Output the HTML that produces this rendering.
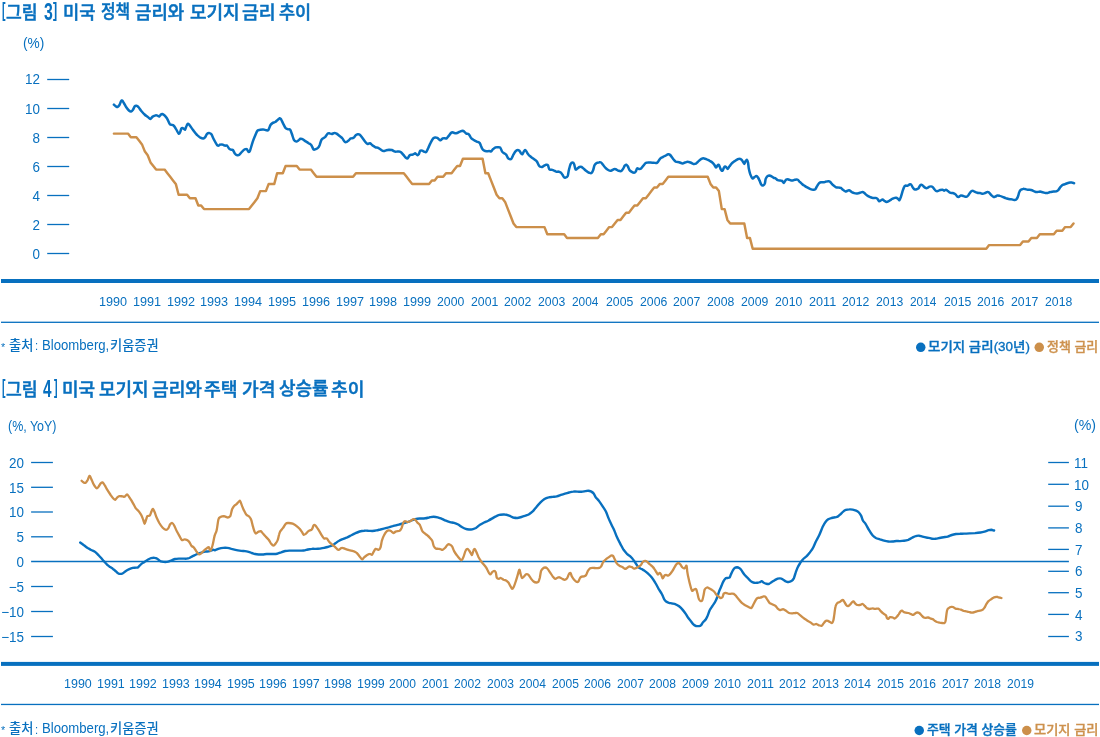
<!DOCTYPE html>
<html lang="ko"><head><meta charset="utf-8"><title>미국 금리 차트</title>
<style>html,body{margin:0;padding:0;background:#fff;}
body{width:1100px;height:737px;position:relative;overflow:hidden;font-family:"Liberation Sans","Noto Sans CJK KR",sans-serif;}
.t{position:absolute;white-space:nowrap;line-height:1.2;}
.grp{position:absolute;left:0;top:0;width:0;height:0;}
svg{position:absolute;left:0;top:0;}
</style></head><body>
<svg id="g" width="1100" height="737" viewBox="0 0 1100 737">
<line x1="47.2" y1="79.50" x2="69.2" y2="79.50" stroke="#0870bf" stroke-width="1.3"/>
<line x1="47.2" y1="108.50" x2="69.2" y2="108.50" stroke="#0870bf" stroke-width="1.3"/>
<line x1="47.2" y1="137.50" x2="69.2" y2="137.50" stroke="#0870bf" stroke-width="1.3"/>
<line x1="47.2" y1="166.50" x2="69.2" y2="166.50" stroke="#0870bf" stroke-width="1.3"/>
<line x1="47.2" y1="195.50" x2="69.2" y2="195.50" stroke="#0870bf" stroke-width="1.3"/>
<line x1="47.2" y1="224.50" x2="69.2" y2="224.50" stroke="#0870bf" stroke-width="1.3"/>
<line x1="47.2" y1="253.50" x2="69.2" y2="253.50" stroke="#0870bf" stroke-width="1.3"/>
<line x1="31.1" y1="462.50" x2="52.9" y2="462.50" stroke="#0870bf" stroke-width="1.3"/>
<line x1="31.1" y1="487.30" x2="52.9" y2="487.30" stroke="#0870bf" stroke-width="1.3"/>
<line x1="31.1" y1="512.00" x2="52.9" y2="512.00" stroke="#0870bf" stroke-width="1.3"/>
<line x1="31.1" y1="536.80" x2="52.9" y2="536.80" stroke="#0870bf" stroke-width="1.3"/>
<line x1="31.1" y1="561.50" x2="1068.9" y2="561.50" stroke="#0870bf" stroke-width="1.3"/>
<line x1="31.1" y1="586.50" x2="52.9" y2="586.50" stroke="#0870bf" stroke-width="1.3"/>
<line x1="31.1" y1="611.50" x2="52.9" y2="611.50" stroke="#0870bf" stroke-width="1.3"/>
<line x1="31.1" y1="636.50" x2="52.9" y2="636.50" stroke="#0870bf" stroke-width="1.3"/>
<line x1="1048.2" y1="462.50" x2="1068.9" y2="462.50" stroke="#0870bf" stroke-width="1.3"/>
<line x1="1048.2" y1="484.30" x2="1068.9" y2="484.30" stroke="#0870bf" stroke-width="1.3"/>
<line x1="1048.2" y1="506.20" x2="1068.9" y2="506.20" stroke="#0870bf" stroke-width="1.3"/>
<line x1="1048.2" y1="527.90" x2="1068.9" y2="527.90" stroke="#0870bf" stroke-width="1.3"/>
<line x1="1048.2" y1="549.40" x2="1068.9" y2="549.40" stroke="#0870bf" stroke-width="1.3"/>
<line x1="1048.2" y1="571.30" x2="1068.9" y2="571.30" stroke="#0870bf" stroke-width="1.3"/>
<line x1="1048.2" y1="592.70" x2="1068.9" y2="592.70" stroke="#0870bf" stroke-width="1.3"/>
<line x1="1048.2" y1="614.40" x2="1068.9" y2="614.40" stroke="#0870bf" stroke-width="1.3"/>
<line x1="1048.2" y1="636.50" x2="1068.9" y2="636.50" stroke="#0870bf" stroke-width="1.3"/>
<rect x="1" y="279" width="1098" height="4" fill="#0870bf"/>
<rect x="1" y="321.65" width="1098" height="1.3" fill="#0870bf"/>
<rect x="1" y="661.9" width="1098" height="4" fill="#0870bf"/>
<rect x="1" y="703.8" width="1098" height="1.3" fill="#0870bf"/>
<path d="M113.9,133.6L116.7,133.6L119.5,133.6L122.3,133.6L125.2,133.6L128.0,133.6L130.8,137.2L133.6,137.2L136.4,137.2L139.2,140.8L142.0,144.4L144.9,151.6L147.7,155.2L150.5,162.4L153.3,166.0L156.1,169.6L158.9,169.6L161.7,169.6L164.6,169.6L167.4,173.2L170.2,176.8L173.0,180.4L175.8,183.9L178.6,194.7L181.4,194.7L184.3,194.7L187.1,194.7L189.9,198.3L192.7,198.3L195.5,198.3L198.3,205.5L201.1,205.5L204.0,209.1L206.8,209.1L209.6,209.1L212.4,209.1L215.2,209.1L218.0,209.1L220.8,209.1L223.7,209.1L226.5,209.1L229.3,209.1L232.1,209.1L234.9,209.1L237.7,209.1L240.5,209.1L243.4,209.1L246.2,209.1L249.0,209.1L251.8,205.5L254.6,201.9L257.4,198.3L260.2,191.1L263.1,191.1L265.9,191.1L268.7,183.9L271.5,183.9L274.3,183.9L277.1,173.2L279.9,173.2L282.8,173.2L285.6,166.0L288.4,166.0L291.2,166.0L294.0,166.0L296.8,166.0L299.6,169.6L302.4,169.6L305.3,169.6L308.1,169.6L310.9,169.6L313.7,173.2L316.5,176.8L319.3,176.8L322.1,176.8L325.0,176.8L327.8,176.8L330.6,176.8L333.4,176.8L336.2,176.8L339.0,176.8L341.8,176.8L344.7,176.8L347.5,176.8L350.3,176.8L353.1,176.8L355.9,173.2L358.7,173.2L361.5,173.2L364.4,173.2L367.2,173.2L370.0,173.2L372.8,173.2L375.6,173.2L378.4,173.2L381.2,173.2L384.1,173.2L386.9,173.2L389.7,173.2L392.5,173.2L395.3,173.2L398.1,173.2L400.9,173.2L403.8,173.2L406.6,176.8L409.4,180.4L412.2,183.9L415.0,183.9L417.8,183.9L420.6,183.9L423.5,183.9L426.3,183.9L429.1,183.9L431.9,180.4L434.7,180.4L437.5,176.8L440.3,176.8L443.2,176.8L446.0,173.2L448.8,173.2L451.6,173.2L454.4,169.6L457.2,166.0L460.0,166.0L462.9,158.8L465.7,158.8L468.5,158.8L471.3,158.8L474.1,158.8L476.9,158.8L479.7,158.8L482.6,158.8L485.4,173.2L488.2,173.2L491.0,180.4L493.8,187.5L496.6,194.7L499.4,198.3L502.3,198.3L505.1,201.9L507.9,209.1L510.7,216.3L513.5,223.5L516.3,227.1L519.1,227.1L522.0,227.1L524.8,227.1L527.6,227.1L530.4,227.1L533.2,227.1L536.0,227.1L538.8,227.1L541.7,227.1L544.5,227.1L547.3,234.3L550.1,234.3L552.9,234.3L555.7,234.3L558.5,234.3L561.4,234.3L564.2,234.3L567.0,237.9L569.8,237.9L572.6,237.9L575.4,237.9L578.2,237.9L581.1,237.9L583.9,237.9L586.7,237.9L589.5,237.9L592.3,237.9L595.1,237.9L597.9,237.9L600.8,234.3L603.6,234.3L606.4,230.7L609.2,227.1L612.0,227.1L614.8,223.5L617.6,219.9L620.5,219.9L623.3,216.3L626.1,212.7L628.9,212.7L631.7,209.1L634.5,205.5L637.3,205.5L640.1,201.9L643.0,198.3L645.8,198.3L648.6,194.7L651.4,191.1L654.2,187.5L657.0,187.5L659.8,183.9L662.7,183.9L665.5,180.4L668.3,176.8L671.1,176.8L673.9,176.8L676.7,176.8L679.5,176.8L682.4,176.8L685.2,176.8L688.0,176.8L690.8,176.8L693.6,176.8L696.4,176.8L699.2,176.8L702.1,176.8L704.9,176.8L707.7,176.8L710.5,183.9L713.3,187.5L716.1,187.5L718.9,191.1L721.8,209.1L724.6,209.1L727.4,219.9L730.2,223.5L733.0,223.5L735.8,223.5L738.6,223.5L741.5,223.5L744.3,223.5L747.1,237.9L749.9,237.9L752.7,248.7L755.5,248.7L758.3,248.7L761.2,248.7L764.0,248.7L766.8,248.7L769.6,248.7L772.4,248.7L775.2,248.7L778.0,248.7L780.9,248.7L783.7,248.7L786.5,248.7L789.3,248.7L792.1,248.7L794.9,248.7L797.7,248.7L800.6,248.7L803.4,248.7L806.2,248.7L809.0,248.7L811.8,248.7L814.6,248.7L817.4,248.7L820.3,248.7L823.1,248.7L825.9,248.7L828.7,248.7L831.5,248.7L834.3,248.7L837.1,248.7L840.0,248.7L842.8,248.7L845.6,248.7L848.4,248.7L851.2,248.7L854.0,248.7L856.8,248.7L859.7,248.7L862.5,248.7L865.3,248.7L868.1,248.7L870.9,248.7L873.7,248.7L876.5,248.7L879.4,248.7L882.2,248.7L885.0,248.7L887.8,248.7L890.6,248.7L893.4,248.7L896.2,248.7L899.1,248.7L901.9,248.7L904.7,248.7L907.5,248.7L910.3,248.7L913.1,248.7L915.9,248.7L918.8,248.7L921.6,248.7L924.4,248.7L927.2,248.7L930.0,248.7L932.8,248.7L935.6,248.7L938.5,248.7L941.3,248.7L944.1,248.7L946.9,248.7L949.7,248.7L952.5,248.7L955.3,248.7L958.2,248.7L961.0,248.7L963.8,248.7L966.6,248.7L969.4,248.7L972.2,248.7L975.0,248.7L977.8,248.7L980.7,248.7L983.5,248.7L986.3,248.7L989.1,245.1L991.9,245.1L994.7,245.1L997.5,245.1L1000.4,245.1L1003.2,245.1L1006.0,245.1L1008.8,245.1L1011.6,245.1L1014.4,245.1L1017.2,245.1L1020.1,245.1L1022.9,241.5L1025.7,241.5L1028.5,241.5L1031.3,237.9L1034.1,237.9L1036.9,237.9L1039.8,234.3L1042.6,234.3L1045.4,234.3L1048.2,234.3L1051.0,234.3L1053.8,234.3L1056.6,230.7L1059.5,230.7L1062.3,230.7L1065.1,227.1L1067.9,227.1L1070.7,227.1L1073.5,223.5" fill="none" stroke="#cc8f4a" stroke-width="2.45" stroke-linejoin="round" stroke-linecap="round"/>
<path d="M113.9,104.7C114.2,105.0 115.3,106.0 115.9,106.4C116.5,106.7 117.0,107.2 117.5,107.0C118.1,106.9 118.7,106.2 119.3,105.3C119.9,104.3 120.6,102.0 121.1,101.2C121.6,100.4 121.9,100.3 122.3,100.6C122.8,100.9 123.2,101.9 123.8,103.0C124.5,104.0 125.3,105.8 126.1,107.0C127.0,108.3 128.0,109.7 128.9,110.5C129.7,111.2 130.5,111.7 131.2,111.5C131.9,111.4 132.4,110.6 132.9,109.8C133.5,108.9 134.2,107.0 134.7,106.4C135.3,105.7 135.7,105.7 136.4,105.8C137.0,105.9 137.6,106.2 138.4,107.0C139.2,107.9 140.1,109.5 141.1,110.7C142.2,112.0 143.4,113.5 144.6,114.5C145.7,115.6 147.0,116.3 147.9,117.0C148.9,117.7 149.5,119.0 150.3,118.9C151.1,118.8 151.9,117.2 152.7,116.6C153.6,116.0 154.7,115.5 155.4,115.4C156.2,115.2 156.9,115.4 157.5,115.6C158.1,115.8 158.7,116.8 159.3,116.6C159.8,116.4 160.4,115.0 160.9,114.5C161.4,114.1 161.7,113.9 162.3,114.0C162.8,114.1 163.5,114.5 164.3,115.2C165.1,116.0 166.1,117.2 167.1,118.6C168.0,120.1 169.0,123.0 169.8,124.1C170.6,125.1 171.2,124.7 171.8,124.9C172.5,125.1 172.9,124.8 173.6,125.5C174.3,126.1 175.1,127.5 175.9,128.9C176.8,130.2 178.0,133.1 178.6,133.6C179.3,134.2 179.5,133.1 180.0,132.3C180.5,131.4 180.9,129.3 181.4,128.6C181.9,127.9 182.4,128.0 183.0,128.2C183.6,128.3 184.5,130.0 185.1,129.6C185.6,129.1 186.1,126.7 186.6,125.7C187.0,124.8 187.4,123.9 187.9,123.8C188.4,123.7 188.7,124.2 189.6,125.2C190.4,126.2 191.7,128.2 192.9,129.8C194.2,131.5 195.8,133.7 197.1,135.0C198.3,136.3 199.4,137.1 200.4,137.7C201.5,138.3 202.4,138.7 203.2,138.6C204.0,138.4 204.6,137.8 205.2,137.1C205.9,136.3 206.3,134.6 207.0,133.9C207.7,133.2 208.6,133.0 209.3,133.1C210.0,133.2 210.6,133.2 211.4,134.3C212.2,135.4 213.0,137.9 214.1,139.8C215.1,141.7 216.6,144.8 217.6,145.6C218.7,146.4 219.5,144.7 220.2,144.6C221.0,144.4 221.5,144.4 222.3,144.6C223.1,144.7 224.2,145.5 225.0,145.6C225.8,145.8 226.4,145.1 227.1,145.6C227.7,146.1 228.4,148.0 229.1,148.6C229.8,149.3 230.5,149.5 231.1,149.7C231.8,150.0 232.3,149.4 232.9,150.0C233.5,150.6 234.1,152.5 234.8,153.4C235.5,154.3 236.5,155.0 237.3,155.2C238.0,155.4 238.5,155.4 239.3,154.8C240.1,154.2 241.1,152.5 242.1,151.6C243.0,150.7 244.0,149.8 244.8,149.3C245.6,148.9 246.2,148.6 246.8,149.1C247.4,149.5 247.9,151.5 248.5,151.8C249.0,152.0 249.3,152.3 250.0,150.7C250.7,149.0 251.8,144.4 252.7,141.8C253.6,139.2 254.7,136.9 255.4,135.0C256.2,133.1 256.7,131.5 257.5,130.6C258.3,129.8 259.2,130.0 260.2,129.8C261.3,129.6 262.7,129.5 263.6,129.6C264.6,129.6 265.3,130.2 266.1,130.2C266.9,130.3 267.7,130.8 268.4,129.9C269.1,129.1 269.8,126.3 270.4,125.2C271.1,124.0 271.7,123.7 272.5,123.1C273.3,122.6 274.4,122.5 275.2,122.0C276.0,121.6 276.5,120.9 277.3,120.3C278.0,119.6 279.1,118.4 279.7,118.2C280.4,118.1 280.5,118.3 281.1,119.3C281.7,120.3 282.6,122.6 283.4,124.1C284.2,125.6 284.9,127.3 285.7,128.2C286.5,129.0 287.4,129.0 288.2,129.3C288.9,129.5 289.6,129.0 290.2,129.8C290.9,130.7 291.4,132.7 292.0,134.3C292.6,136.0 293.2,138.6 293.9,139.8C294.6,141.0 295.6,141.4 296.4,141.6C297.1,141.7 297.7,140.9 298.4,140.4C299.1,140.0 299.8,139.0 300.4,138.8C301.1,138.6 301.7,138.7 302.5,139.1C303.3,139.5 304.2,140.5 305.2,141.1C306.3,141.8 307.6,142.5 308.6,143.2C309.7,143.9 310.6,144.2 311.4,145.2C312.2,146.3 312.7,148.6 313.4,149.3C314.1,150.0 314.7,149.5 315.4,149.3C316.2,149.1 317.2,148.6 317.9,147.9C318.6,147.3 319.0,146.5 319.6,145.2C320.1,144.0 320.6,141.6 321.2,140.4C321.7,139.3 322.3,139.0 322.9,138.4C323.6,137.8 324.2,137.8 325.0,137.1C325.8,136.3 326.9,134.3 327.7,133.6C328.5,133.0 329.1,133.3 329.8,133.4C330.5,133.4 331.1,134.0 331.8,133.9C332.6,133.9 333.5,133.1 334.3,133.1C335.1,133.0 335.7,133.2 336.6,133.6C337.4,134.1 338.4,135.0 339.3,135.7C340.2,136.4 341.1,137.0 342.1,138.0C343.0,139.0 344.0,141.2 344.8,141.8C345.6,142.5 346.1,142.1 346.8,141.8C347.5,141.5 348.2,140.7 348.9,140.2C349.5,139.6 350.1,138.8 350.9,138.4C351.7,138.0 352.8,138.3 353.6,137.7C354.4,137.2 355.0,135.8 355.7,135.3C356.4,134.7 357.0,134.4 357.7,134.3C358.4,134.2 359.0,134.1 359.8,134.7C360.6,135.3 361.6,136.8 362.5,138.0C363.4,139.2 364.4,140.8 365.2,141.8C366.0,142.8 366.5,143.6 367.3,143.9C368.1,144.1 369.1,142.9 370.0,143.2C370.9,143.5 371.8,145.0 372.7,145.6C373.6,146.3 374.6,146.9 375.5,147.3C376.4,147.7 377.3,147.5 378.2,147.9C379.1,148.4 380.0,149.2 380.9,149.7C381.8,150.3 382.7,151.0 383.6,151.1C384.5,151.2 385.5,150.5 386.4,150.3C387.3,150.0 388.2,149.8 389.1,149.7C390.0,149.7 390.8,149.7 391.8,150.0C392.8,150.3 394.0,151.3 395.0,151.6C396.0,151.8 396.8,151.5 397.7,151.6C398.6,151.6 399.5,151.3 400.4,151.8C401.4,152.3 402.3,153.6 403.2,154.6C404.0,155.5 404.9,156.9 405.6,157.6C406.4,158.2 406.9,158.7 407.6,158.4C408.2,158.0 409.0,155.8 409.7,155.2C410.5,154.6 411.3,155.0 412.1,154.8C412.8,154.6 413.5,154.1 414.1,153.9C414.7,153.6 414.9,153.2 415.4,153.4C416.0,153.7 416.9,155.2 417.5,155.2C418.1,155.3 418.4,154.6 418.9,153.9C419.3,153.1 419.7,151.3 420.2,150.7C420.8,150.2 421.6,150.5 422.3,150.7C423.0,150.9 423.6,151.6 424.3,151.8C425.0,152.0 425.7,152.5 426.4,151.8C427.0,151.1 427.7,149.3 428.4,147.7C429.1,146.2 429.9,144.1 430.7,142.6C431.5,141.0 432.4,139.3 433.2,138.4C433.9,137.6 434.5,137.6 435.2,137.5C435.9,137.4 436.6,137.6 437.3,137.9C438.0,138.3 438.8,139.2 439.3,139.6C439.9,139.9 440.1,140.4 440.7,140.2C441.2,140.0 442.0,138.8 442.7,138.4C443.4,138.1 444.1,138.2 444.8,138.2C445.4,138.2 445.9,138.9 446.6,138.4C447.2,138.0 448.1,136.6 448.9,135.7C449.6,134.8 450.3,133.6 450.9,133.0C451.5,132.4 452.0,132.2 452.6,132.2C453.1,132.2 453.7,132.8 454.3,133.0C454.9,133.2 455.4,133.4 456.1,133.3C456.8,133.2 457.7,132.8 458.4,132.4C459.1,132.1 459.8,131.6 460.4,131.4C461.1,131.1 461.9,130.8 462.5,130.8C463.1,130.9 463.7,131.2 464.3,131.6C464.9,132.1 465.5,133.1 466.2,133.6C466.9,134.0 468.0,133.7 468.6,134.1C469.3,134.5 469.5,135.4 470.0,136.1C470.5,136.9 470.7,137.8 471.4,138.4C472.0,139.1 473.2,139.7 474.1,140.2C475.0,140.8 475.9,141.1 476.8,141.6C477.7,142.0 478.9,142.3 479.6,142.9C480.2,143.6 480.5,144.7 480.9,145.7C481.4,146.7 481.7,148.0 482.3,148.8C482.8,149.7 483.6,150.3 484.3,150.7C485.0,151.1 485.6,151.2 486.4,151.3C487.2,151.3 488.3,151.1 489.1,151.1C489.9,151.1 490.5,151.6 491.1,151.3C491.8,150.9 492.4,149.7 493.2,149.1C493.9,148.5 494.8,147.8 495.6,147.4C496.4,147.1 497.2,147.1 498.0,147.2C498.7,147.2 499.6,147.0 500.3,147.7C501.0,148.5 501.4,150.6 502.1,151.6C502.7,152.5 503.4,152.7 504.1,153.2C504.8,153.7 505.5,153.7 506.1,154.6C506.8,155.4 507.5,157.6 508.2,158.4C508.9,159.1 509.7,159.2 510.2,159.2C510.8,159.2 511.0,159.2 511.6,158.4C512.2,157.5 513.0,155.5 513.6,154.3C514.3,153.1 515.0,151.9 515.7,151.1C516.3,150.4 516.8,150.0 517.5,149.9C518.1,149.8 518.7,150.1 519.4,150.7C520.0,151.3 520.6,152.9 521.1,153.4C521.7,154.0 522.0,154.5 522.5,154.0C523.0,153.5 523.7,151.4 524.3,150.7C524.8,150.1 525.2,149.9 525.6,150.2C526.1,150.5 526.5,151.7 527.0,152.5C527.5,153.3 527.9,154.0 528.6,154.8C529.4,155.6 530.5,156.5 531.4,157.3C532.3,158.0 533.2,158.6 534.1,159.3C535.0,160.0 536.0,160.3 536.8,161.4C537.6,162.4 538.3,164.6 538.9,165.4C539.4,166.3 539.5,166.3 540.0,166.6C540.5,166.8 541.4,167.2 542.0,167.0C542.7,166.8 543.4,166.0 544.1,165.6C544.8,165.3 545.5,164.9 546.1,164.8C546.8,164.8 547.4,164.5 547.9,165.2C548.4,166.0 548.7,168.6 549.3,169.3C549.9,170.1 550.9,169.6 551.6,169.7C552.3,169.9 552.9,170.0 553.6,170.3C554.4,170.6 555.3,171.4 556.1,171.6C556.9,171.9 557.6,171.5 558.4,171.6C559.2,171.8 560.0,171.9 560.7,172.4C561.4,173.0 562.0,174.0 562.5,174.8C563.0,175.5 563.3,176.6 563.9,177.1C564.4,177.6 565.0,177.8 565.6,177.6C566.3,177.5 567.1,177.4 567.7,176.1C568.2,174.9 568.4,172.0 568.9,170.0C569.4,168.0 570.1,165.1 570.7,163.9C571.3,162.6 571.9,162.5 572.5,162.5C573.0,162.5 573.6,162.7 574.1,163.9C574.6,165.0 574.9,168.6 575.5,169.3C576.0,170.1 576.8,168.7 577.5,168.4C578.2,168.0 578.9,167.2 579.5,167.0C580.2,166.8 580.9,166.7 581.6,167.0C582.3,167.3 582.8,168.0 583.6,168.6C584.4,169.3 585.5,170.4 586.4,171.1C587.3,171.8 588.2,172.4 589.1,172.7C590.0,173.0 590.9,173.5 591.5,173.0C592.2,172.5 592.7,171.3 593.2,170.0C593.7,168.7 594.0,166.4 594.5,165.2C595.1,164.0 595.9,163.4 596.6,162.9C597.3,162.4 598.2,162.4 598.9,162.4C599.7,162.3 600.4,162.1 601.1,162.5C601.8,162.9 602.3,163.9 603.0,164.8C603.7,165.7 604.6,167.1 605.5,167.9C606.3,168.8 607.3,169.5 608.2,170.0C609.1,170.5 610.0,170.8 610.9,170.7C611.8,170.6 612.8,169.6 613.6,169.3C614.4,169.1 614.9,169.0 615.7,169.2C616.5,169.4 617.5,170.4 618.4,170.7C619.3,171.0 620.3,171.4 621.1,171.1C621.9,170.8 622.6,169.5 623.2,168.6C623.8,167.7 624.3,166.3 624.8,165.6C625.4,165.0 626.1,164.7 626.6,164.8C627.1,165.0 627.5,165.8 628.0,166.6C628.4,167.4 628.8,168.9 629.3,169.7C629.9,170.6 630.6,171.1 631.4,171.6C632.2,172.1 633.4,172.7 634.1,172.7C634.8,172.7 635.2,172.4 635.7,171.6C636.2,170.9 636.6,168.8 637.1,168.4C637.6,167.9 638.2,168.9 638.9,168.9C639.5,169.0 640.2,169.2 640.9,168.6C641.7,168.1 642.6,166.6 643.4,165.6C644.2,164.7 645.0,163.5 645.7,162.9C646.4,162.4 646.9,162.4 647.7,162.4C648.5,162.3 649.4,162.6 650.5,162.6C651.5,162.7 652.7,162.8 653.9,162.8C655.0,162.8 656.2,163.3 657.3,162.6C658.3,162.0 659.1,159.8 660.0,158.8C660.9,157.9 661.8,157.6 662.7,157.1C663.6,156.5 664.6,156.1 665.5,155.7C666.4,155.2 667.4,154.4 668.2,154.3C669.0,154.2 669.4,154.2 670.2,155.0C671.0,155.8 672.1,157.7 673.0,158.8C673.9,159.9 674.7,161.0 675.7,161.6C676.7,162.1 678.0,161.9 679.1,162.2C680.2,162.5 681.5,163.4 682.5,163.4C683.5,163.5 684.1,162.8 685.0,162.5C685.9,162.2 686.8,161.8 687.7,161.8C688.6,161.8 689.5,162.2 690.5,162.5C691.4,162.8 692.3,163.7 693.2,163.9C694.1,164.0 695.0,164.0 695.9,163.6C696.8,163.1 697.7,161.9 698.6,161.1C699.5,160.3 700.5,159.3 701.4,158.8C702.3,158.4 703.2,158.3 704.1,158.4C705.0,158.5 705.9,159.0 706.8,159.4C707.7,159.7 708.6,160.2 709.5,160.7C710.5,161.3 711.5,161.8 712.3,162.5C713.1,163.2 713.7,164.0 714.3,164.8C715.0,165.7 715.5,167.5 716.1,167.6C716.7,167.6 717.2,165.6 717.7,165.2C718.2,164.8 718.6,164.5 719.1,165.2C719.6,165.9 720.2,168.4 720.7,169.3C721.3,170.2 721.9,171.1 722.5,170.7C723.1,170.3 723.7,167.7 724.3,167.0C724.8,166.3 725.1,166.3 725.6,166.6C726.2,166.9 726.9,168.9 727.5,168.9C728.2,168.9 728.6,167.5 729.3,166.6C730.1,165.6 731.1,164.1 732.0,163.2C733.0,162.3 733.9,161.8 734.8,161.1C735.7,160.5 736.7,159.8 737.5,159.4C738.3,159.0 738.9,158.6 739.5,158.7C740.2,158.7 741.0,159.2 741.6,159.8C742.2,160.3 742.5,161.1 743.0,161.8C743.4,162.5 743.9,164.0 744.3,163.9C744.8,163.7 745.2,161.8 745.7,161.1C746.1,160.5 746.7,159.5 747.0,159.8C747.4,160.0 747.7,161.0 748.0,162.5C748.3,164.0 748.5,166.7 748.8,168.6C749.2,170.6 749.6,172.5 750.2,174.1C750.8,175.7 751.8,177.9 752.5,178.4C753.2,178.9 753.9,177.5 754.5,177.1C755.2,176.7 755.6,176.1 756.2,176.1C756.7,176.2 757.4,176.7 758.0,177.5C758.5,178.3 759.2,179.7 759.7,180.9C760.3,182.1 760.7,184.0 761.4,184.7C762.0,185.5 762.8,185.5 763.4,185.3C764.0,185.1 764.4,184.7 764.8,183.6C765.2,182.6 765.3,180.1 765.7,178.9C766.2,177.6 766.9,176.7 767.5,176.1C768.1,175.6 768.9,175.4 769.5,175.4C770.2,175.5 770.9,176.0 771.6,176.4C772.3,176.8 773.0,177.4 773.6,177.8C774.3,178.1 775.0,178.0 775.7,178.4C776.4,178.9 776.9,179.9 777.7,180.2C778.5,180.6 779.7,180.5 780.5,180.6C781.2,180.8 781.5,180.5 782.1,180.9C782.7,181.3 783.3,183.1 783.9,182.9C784.5,182.8 785.1,180.8 785.6,180.2C786.2,179.6 786.7,179.3 787.3,179.3C787.9,179.2 788.5,179.6 789.3,179.8C790.1,180.0 791.1,180.6 792.0,180.6C793.0,180.6 793.9,180.0 794.8,179.8C795.7,179.6 796.7,179.3 797.5,179.6C798.3,179.8 798.8,180.8 799.5,181.6C800.3,182.4 801.4,183.6 802.3,184.3C803.2,185.1 804.1,185.5 805.0,186.1C805.9,186.7 806.8,187.2 807.7,187.7C808.6,188.2 809.6,188.8 810.5,189.1C811.4,189.4 812.4,189.7 813.2,189.8C814.0,189.8 814.5,190.0 815.2,189.4C815.9,188.7 816.6,186.7 817.3,185.7C818.0,184.6 818.6,183.5 819.3,182.9C820.0,182.4 820.6,182.4 821.4,182.3C822.2,182.2 823.3,182.4 824.1,182.3C824.9,182.2 825.5,181.7 826.1,181.6C826.8,181.4 827.5,181.3 828.2,181.3C828.8,181.4 829.2,181.2 830.0,181.8C830.8,182.4 831.7,183.9 832.7,184.8C833.8,185.7 835.1,186.8 836.1,187.3C837.2,187.7 838.1,187.4 838.9,187.6C839.7,187.7 840.2,187.6 840.9,187.9C841.6,188.3 842.2,189.2 843.0,189.7C843.7,190.3 844.5,191.2 845.3,191.4C846.1,191.5 847.0,190.9 847.7,190.7C848.4,190.5 848.7,190.0 849.4,190.3C850.0,190.5 851.0,191.6 851.8,192.1C852.6,192.5 853.4,192.9 854.3,193.1C855.2,193.4 856.3,193.5 857.3,193.4C858.2,193.3 859.1,193.0 860.0,192.7C860.9,192.5 861.8,192.1 862.5,192.1C863.1,192.1 863.4,192.2 864.1,192.7C864.8,193.3 865.8,194.5 866.8,195.2C867.8,195.9 869.2,196.6 870.2,197.1C871.3,197.5 872.0,197.8 873.0,197.9C873.9,198.0 874.9,197.8 875.7,197.9C876.4,198.1 876.9,198.3 877.5,198.9C878.0,199.4 878.5,201.0 879.1,201.2C879.7,201.4 880.6,200.5 881.1,200.2C881.7,200.0 881.9,199.4 882.5,199.6C883.1,199.7 883.9,200.5 884.5,200.9C885.2,201.3 885.9,201.8 886.6,201.9C887.3,201.9 887.8,201.6 888.6,201.2C889.4,200.7 890.5,199.8 891.4,199.3C892.2,198.8 893.0,198.4 893.8,198.2C894.6,197.9 895.4,197.7 896.1,197.8C896.9,197.9 897.6,198.5 898.2,198.9C898.7,199.3 899.1,200.6 899.5,200.2C900.0,199.9 900.4,198.3 900.9,196.8C901.4,195.3 902.0,193.1 902.5,191.4C903.1,189.7 903.8,187.5 904.3,186.6C904.8,185.6 905.1,185.8 905.7,185.6C906.2,185.5 907.0,185.9 907.7,185.6C908.4,185.4 909.2,184.5 909.8,184.3C910.3,184.1 910.6,184.0 911.1,184.6C911.7,185.1 912.3,186.8 912.9,187.6C913.5,188.3 913.9,189.0 914.5,189.3C915.2,189.6 916.0,189.5 916.6,189.3C917.2,189.2 917.8,189.0 918.4,188.4C918.9,187.7 919.5,186.2 920.0,185.6C920.5,185.0 921.1,184.7 921.6,184.8C922.2,184.9 922.8,185.7 923.4,186.2C924.0,186.7 924.8,187.7 925.5,187.9C926.1,188.2 926.8,188.2 927.5,187.9C928.2,187.7 928.8,186.8 929.5,186.6C930.3,186.4 931.3,186.2 932.0,186.6C932.7,186.9 933.3,188.0 933.9,188.6C934.5,189.3 935.0,190.3 935.7,190.7C936.3,191.1 937.0,191.2 937.7,191.1C938.5,191.0 939.4,190.2 940.2,190.0C941.0,189.8 941.8,189.6 942.5,189.7C943.2,189.8 943.7,190.7 944.3,190.7C944.8,190.7 945.4,189.7 945.9,189.7C946.5,189.7 946.9,190.2 947.5,190.7C948.2,191.2 949.1,192.3 950.0,192.7C950.9,193.1 951.8,192.7 952.7,193.0C953.6,193.3 954.7,193.7 955.5,194.4C956.2,195.0 956.9,196.4 957.5,196.8C958.1,197.2 958.3,197.0 958.9,196.8C959.4,196.6 960.1,195.6 960.9,195.4C961.7,195.3 962.7,195.9 963.6,196.1C964.5,196.4 965.6,197.0 966.4,196.8C967.2,196.7 967.7,196.0 968.4,195.2C969.1,194.4 969.8,192.8 970.5,192.1C971.1,191.3 971.8,190.7 972.5,190.7C973.2,190.6 973.8,191.3 974.5,191.6C975.3,192.0 976.4,192.5 977.3,192.7C978.2,193.0 979.1,192.8 980.0,193.0C980.9,193.2 981.9,193.8 982.7,193.8C983.6,193.8 984.5,193.3 985.2,193.0C985.9,192.7 986.5,192.1 987.1,192.1C987.7,192.0 988.2,192.0 988.9,192.4C989.5,192.9 990.2,194.0 990.9,194.8C991.7,195.5 992.6,196.5 993.4,196.8C994.1,197.1 994.6,196.8 995.3,196.6C996.0,196.3 996.7,195.6 997.5,195.4C998.2,195.3 998.9,195.6 999.8,195.9C1000.6,196.1 1001.5,196.4 1002.5,196.8C1003.5,197.2 1004.9,197.8 1005.9,198.2C1006.9,198.5 1007.7,198.8 1008.6,199.0C1009.5,199.2 1010.5,199.1 1011.4,199.3C1012.3,199.4 1013.3,199.9 1014.1,199.9C1014.9,200.0 1015.5,200.1 1016.1,199.6C1016.8,199.0 1017.4,198.1 1017.9,196.8C1018.4,195.6 1018.8,193.2 1019.3,192.1C1019.8,190.9 1020.3,190.3 1020.9,189.7C1021.5,189.2 1022.3,189.0 1023.0,188.9C1023.6,188.8 1024.2,188.9 1025.0,189.1C1025.8,189.2 1026.7,189.6 1027.7,189.7C1028.8,189.9 1030.1,189.8 1031.1,190.0C1032.2,190.2 1033.0,190.7 1033.9,191.1C1034.8,191.4 1035.6,192.0 1036.6,192.1C1037.6,192.1 1039.0,191.6 1040.0,191.6C1041.0,191.7 1041.8,192.0 1042.7,192.2C1043.6,192.4 1044.7,192.9 1045.5,193.0C1046.2,193.1 1046.7,193.2 1047.5,193.0C1048.3,192.8 1049.2,192.3 1050.2,192.1C1051.3,191.8 1052.6,191.8 1053.6,191.6C1054.7,191.5 1055.6,191.6 1056.4,191.4C1057.2,191.1 1057.8,190.7 1058.4,190.0C1059.0,189.3 1059.6,188.1 1060.2,187.3C1060.8,186.5 1061.4,185.7 1062.1,185.2C1062.8,184.7 1063.7,184.6 1064.5,184.3C1065.4,183.9 1066.4,183.5 1067.3,183.2C1068.2,182.9 1069.2,182.6 1070.0,182.5C1070.8,182.4 1071.4,182.4 1072.0,182.5C1072.7,182.6 1073.8,183.1 1074.1,183.2" fill="none" stroke="#0870bf" stroke-width="2.5" stroke-linejoin="round" stroke-linecap="round"/>
<path d="M80.2,542.5C80.8,543.0 82.4,544.1 83.6,545.0C84.9,545.9 86.5,547.2 87.7,548.0C89.0,548.8 90.0,549.5 91.1,550.0C92.3,550.6 93.5,550.9 94.5,551.5C95.6,552.2 96.2,552.9 97.3,553.9C98.3,554.9 99.5,556.3 100.7,557.5C101.8,558.8 103.0,560.1 104.1,561.4C105.2,562.6 106.5,564.1 107.5,565.0C108.5,566.0 109.3,566.5 110.2,567.1C111.1,567.7 112.0,568.2 113.0,568.9C113.9,569.5 114.8,570.5 115.7,571.2C116.5,571.9 117.2,572.8 118.0,573.2C118.8,573.7 119.6,573.9 120.5,573.9C121.3,573.9 122.0,573.7 122.9,573.2C123.8,572.7 124.8,571.6 125.9,570.9C127.0,570.2 128.2,569.6 129.3,569.1C130.5,568.6 131.6,568.2 132.7,567.9C133.9,567.7 135.2,567.8 136.1,567.6C137.0,567.5 137.4,567.8 138.2,567.2C139.0,566.7 139.9,565.2 140.9,564.4C141.9,563.5 143.2,562.8 144.3,562.0C145.5,561.3 146.6,560.4 147.7,559.7C148.9,559.1 150.1,558.4 151.1,558.1C152.2,557.8 153.0,557.8 153.9,557.8C154.8,557.9 155.7,557.9 156.6,558.4C157.5,558.8 158.4,559.9 159.3,560.4C160.2,561.0 161.0,561.4 162.1,561.6C163.1,561.9 164.4,562.0 165.4,562.0C166.5,562.0 167.2,561.9 168.2,561.6C169.2,561.3 170.5,560.7 171.6,560.3C172.7,559.8 173.8,559.3 175.0,559.0C176.2,558.8 177.7,558.7 179.1,558.6C180.5,558.6 181.9,558.6 183.2,558.6C184.4,558.6 185.6,558.8 186.6,558.6C187.6,558.5 188.3,558.4 189.3,558.0C190.3,557.5 191.6,556.7 192.7,556.2C193.9,555.6 195.0,555.0 196.1,554.5C197.3,554.0 198.4,553.6 199.6,553.2C200.7,552.8 201.8,552.4 203.0,552.1C204.1,551.8 205.2,551.7 206.4,551.5C207.5,551.4 208.6,551.4 209.8,551.1C210.9,550.8 212.3,549.9 213.2,549.8C214.1,549.6 214.0,550.4 215.0,550.2C216.0,550.0 217.7,549.0 219.1,548.6C220.5,548.2 221.8,548.0 223.2,547.9C224.5,547.8 225.9,547.8 227.3,547.9C228.6,548.1 230.0,548.5 231.4,548.9C232.7,549.2 234.1,549.5 235.4,549.8C236.8,550.1 238.2,550.4 239.6,550.6C240.9,550.8 242.3,550.9 243.6,551.0C245.0,551.2 246.4,551.3 247.7,551.6C249.1,551.9 250.6,552.5 251.8,553.0C253.1,553.4 254.1,553.8 255.2,554.0C256.4,554.3 257.4,554.4 258.6,554.5C259.9,554.5 261.4,554.5 262.7,554.5C264.1,554.4 265.2,554.1 266.8,554.0C268.4,554.0 270.6,554.1 272.3,554.0C274.0,554.0 275.6,554.1 277.1,553.8C278.5,553.5 279.8,552.7 281.1,552.3C282.5,551.8 283.9,551.3 285.2,551.0C286.6,550.8 287.8,550.7 289.3,550.6C290.8,550.6 292.4,550.6 294.1,550.6C295.8,550.6 298.0,550.7 299.6,550.6C301.1,550.6 302.3,550.7 303.6,550.5C305.0,550.3 306.4,549.8 307.7,549.5C309.1,549.3 310.5,549.0 311.8,548.9C313.2,548.7 314.5,548.9 315.9,548.9C317.3,548.8 318.6,548.7 320.0,548.6C321.4,548.4 322.7,548.2 324.1,547.9C325.5,547.6 326.8,547.2 328.2,546.8C329.5,546.4 331.0,546.1 332.3,545.5C333.5,544.8 334.5,543.9 335.7,543.1C336.8,542.3 337.8,541.4 339.1,540.7C340.3,540.0 341.8,539.5 343.2,538.9C344.5,538.3 345.9,537.9 347.3,537.3C348.6,536.7 350.0,535.9 351.4,535.2C352.7,534.5 354.1,533.8 355.5,533.2C356.8,532.6 358.1,532.0 359.6,531.5C361.0,531.1 362.7,530.8 364.1,530.7C365.5,530.5 366.8,530.6 368.2,530.7C369.5,530.7 370.9,531.0 372.3,531.0C373.6,530.9 375.0,530.7 376.4,530.4C377.7,530.2 379.1,529.8 380.4,529.5C381.8,529.1 383.2,528.7 384.6,528.4C385.9,528.0 387.3,527.6 388.6,527.3C390.0,526.9 391.4,526.5 392.7,526.2C394.1,525.8 395.5,525.5 396.8,525.1C398.2,524.7 399.5,524.4 400.9,524.0C402.3,523.6 403.6,523.3 405.0,522.9C406.4,522.5 407.7,522.1 409.1,521.5C410.5,521.0 411.8,520.2 413.2,519.8C414.5,519.3 415.9,518.9 417.3,518.7C418.6,518.5 420.0,518.6 421.4,518.5C422.7,518.5 424.1,518.5 425.4,518.3C426.8,518.1 428.2,517.6 429.6,517.3C430.9,517.1 432.3,516.8 433.6,516.8C435.0,516.8 436.4,517.0 437.7,517.3C439.1,517.7 440.5,518.3 441.8,518.8C443.2,519.4 444.5,520.2 445.9,520.7C447.3,521.3 448.6,521.7 450.0,522.1C451.4,522.5 452.7,522.5 454.1,522.9C455.5,523.3 456.8,523.8 458.2,524.5C459.5,525.3 461.0,526.5 462.3,527.3C463.5,528.0 464.5,528.5 465.7,528.9C466.8,529.3 468.0,529.4 469.1,529.5C470.2,529.5 471.4,529.4 472.5,529.2C473.6,528.9 474.7,528.7 475.9,528.0C477.2,527.2 478.6,525.7 480.0,524.8C481.4,523.9 482.7,523.2 484.1,522.5C485.5,521.8 486.8,521.4 488.2,520.7C489.5,520.0 490.9,519.2 492.3,518.4C493.6,517.6 495.0,516.7 496.4,516.1C497.7,515.5 499.1,515.0 500.5,514.7C501.8,514.5 503.1,514.3 504.6,514.5C506.0,514.6 507.7,515.2 509.1,515.7C510.5,516.2 511.8,517.1 513.2,517.5C514.5,517.8 515.9,518.1 517.3,518.0C518.6,517.9 520.0,517.4 521.4,517.0C522.7,516.7 524.1,516.2 525.5,515.7C526.8,515.2 528.3,514.7 529.5,513.9C530.8,513.2 531.8,512.3 533.0,511.2C534.1,510.0 535.1,508.5 536.4,507.1C537.6,505.6 539.1,503.8 540.5,502.4C541.8,501.1 543.2,499.8 544.5,498.9C545.9,498.0 547.3,497.6 548.6,497.3C550.0,496.9 551.4,497.0 552.7,496.9C554.1,496.7 555.5,496.6 556.8,496.3C558.2,496.0 559.5,495.4 560.9,494.9C562.3,494.5 563.6,494.1 565.0,493.7C566.4,493.3 567.7,492.9 569.1,492.5C570.5,492.1 571.8,491.7 573.2,491.6C574.5,491.4 575.9,491.5 577.3,491.6C578.6,491.6 580.0,491.9 581.4,491.8C582.7,491.8 584.3,491.3 585.5,491.1C586.6,491.0 587.3,490.7 588.2,490.7C589.1,490.8 590.0,491.0 590.9,491.4C591.8,491.9 592.8,492.5 593.6,493.4C594.4,494.4 594.8,496.0 595.7,497.3C596.6,498.5 598.0,499.6 599.1,501.1C600.2,502.6 601.4,504.4 602.5,506.1C603.6,507.9 604.9,509.5 605.9,511.6C606.9,513.6 607.7,516.2 608.6,518.4C609.5,520.6 610.5,522.6 611.4,524.5C612.3,526.5 613.2,528.0 614.1,530.0C615.0,532.0 615.8,534.5 616.8,536.8C617.8,539.1 619.1,541.5 620.2,543.6C621.4,545.8 622.5,548.1 623.6,549.8C624.8,551.5 626.0,552.8 627.0,553.9C628.1,554.9 629.1,555.3 630.0,556.1C630.9,557.0 631.8,557.7 632.7,558.9C633.6,560.0 634.5,561.6 635.5,563.0C636.4,564.3 637.2,566.0 638.2,567.0C639.2,568.1 640.5,568.4 641.6,569.1C642.7,569.8 643.9,570.3 645.0,571.1C646.1,571.9 647.3,572.8 648.4,573.9C649.5,574.9 650.7,576.1 651.8,577.5C653.0,579.0 654.1,580.8 655.2,582.7C656.4,584.6 657.5,586.9 658.6,588.9C659.8,590.8 661.1,592.6 662.0,594.3C663.0,596.0 663.4,597.9 664.1,599.1C664.8,600.3 665.3,600.9 666.1,601.5C666.9,602.2 667.8,602.5 668.9,602.8C669.9,603.1 671.1,603.2 672.3,603.5C673.4,603.7 674.5,603.8 675.7,604.3C676.8,604.7 678.0,605.4 679.1,606.3C680.2,607.2 681.4,608.3 682.5,609.6C683.6,610.9 685.0,612.8 685.9,614.1C686.8,615.4 687.2,616.4 688.0,617.5C688.7,618.6 689.8,619.8 690.7,620.9C691.6,622.0 692.5,623.5 693.4,624.3C694.3,625.2 695.2,625.7 696.1,626.0C697.0,626.2 698.1,626.2 698.9,626.1C699.7,626.0 700.2,626.0 700.9,625.4C701.6,624.8 702.2,623.2 703.0,622.3C703.7,621.3 704.9,620.7 705.7,619.5C706.5,618.4 707.0,617.0 707.7,615.5C708.4,613.9 709.0,611.6 709.8,610.0C710.6,608.4 711.6,607.3 712.5,605.9C713.4,604.5 714.4,603.3 715.2,601.8C716.0,600.3 716.6,598.9 717.3,597.0C718.0,595.2 718.6,592.7 719.3,590.9C720.0,589.1 720.7,587.7 721.4,586.1C722.0,584.5 722.7,582.7 723.4,581.4C724.1,580.1 724.8,578.9 725.5,578.4C726.1,577.8 726.8,578.1 727.5,578.0C728.2,577.8 729.0,578.1 729.5,577.5C730.1,577.0 730.3,575.8 730.9,574.5C731.5,573.3 732.3,571.3 733.0,570.2C733.6,569.0 734.3,568.2 735.0,567.7C735.7,567.3 736.4,567.3 737.0,567.3C737.7,567.4 738.4,567.6 739.1,568.0C739.8,568.4 740.3,568.8 741.1,569.8C741.9,570.7 742.8,572.6 743.9,573.9C744.9,575.2 746.1,576.3 747.3,577.5C748.4,578.8 749.5,580.2 750.7,581.1C751.8,582.0 753.0,582.5 754.1,582.7C755.2,583.0 756.5,582.8 757.5,582.7C758.5,582.6 759.5,582.3 760.2,582.0C760.9,581.8 761.1,581.0 761.6,581.1C762.1,581.2 762.6,582.0 763.4,582.5C764.2,582.9 765.4,583.6 766.4,583.8C767.3,584.0 768.2,584.1 769.1,583.8C770.0,583.5 770.8,582.7 771.8,582.0C772.8,581.4 774.0,580.6 775.0,580.0C776.0,579.4 776.8,578.9 777.7,578.6C778.6,578.4 779.5,578.2 780.5,578.4C781.4,578.5 782.3,579.2 783.2,579.7C784.1,580.2 785.0,581.0 785.9,581.4C786.8,581.7 787.7,582.1 788.6,582.0C789.5,582.0 790.5,581.7 791.4,581.1C792.2,580.5 793.1,579.7 793.8,578.4C794.5,577.0 794.8,575.0 795.5,573.2C796.1,571.4 796.7,569.4 797.5,567.7C798.3,566.0 799.3,564.4 800.2,563.0C801.1,561.5 801.9,560.4 803.0,559.3C804.0,558.2 805.2,557.5 806.4,556.4C807.5,555.3 808.6,553.9 809.8,552.5C810.9,551.0 812.2,549.4 813.2,547.5C814.2,545.7 814.9,543.6 815.9,541.5C816.9,539.5 818.2,537.5 819.3,535.0C820.5,532.5 821.7,529.0 822.7,526.8C823.8,524.7 824.5,523.3 825.5,522.0C826.4,520.8 827.2,520.0 828.2,519.3C829.2,518.6 830.5,518.3 831.6,518.0C832.7,517.6 834.0,517.5 835.0,517.3C836.0,517.0 836.8,517.1 837.7,516.6C838.6,516.1 839.5,515.1 840.5,514.3C841.4,513.4 842.3,512.3 843.2,511.6C844.1,510.8 844.9,510.3 845.9,509.9C846.9,509.5 848.2,509.4 849.3,509.4C850.5,509.3 851.6,509.4 852.7,509.6C853.9,509.9 855.1,510.3 856.1,510.7C857.2,511.2 858.0,511.6 858.9,512.5C859.7,513.4 860.5,514.5 861.2,515.9C861.9,517.3 862.2,519.3 863.0,520.7C863.7,522.0 864.7,522.5 865.7,524.1C866.7,525.7 868.0,528.4 869.1,530.2C870.2,532.1 871.4,534.0 872.5,535.3C873.6,536.6 874.7,537.3 875.9,538.0C877.2,538.7 878.6,538.9 880.0,539.4C881.4,539.8 882.7,540.4 884.1,540.7C885.5,541.1 886.8,541.4 888.2,541.5C889.5,541.7 890.9,541.6 892.3,541.5C893.6,541.5 895.1,541.1 896.4,541.0C897.6,540.9 898.7,541.2 900.0,541.1C901.3,541.1 902.7,541.0 904.1,540.7C905.5,540.5 906.8,540.3 908.2,539.8C909.5,539.3 911.0,538.3 912.3,537.7C913.5,537.1 914.5,536.4 915.7,536.1C916.8,535.7 918.0,535.6 919.1,535.7C920.2,535.8 921.1,536.3 922.5,536.6C923.9,537.0 925.7,537.4 927.3,537.7C928.9,538.1 930.7,538.5 932.0,538.7C933.4,538.9 934.2,538.9 935.5,538.8C936.7,538.7 938.2,538.3 939.5,538.0C940.9,537.7 942.3,537.4 943.6,537.2C945.0,537.0 946.4,537.0 947.7,536.6C949.1,536.3 950.5,535.4 951.8,535.0C953.2,534.6 954.5,534.3 955.9,534.0C957.3,533.8 958.6,533.8 960.0,533.8C961.4,533.7 962.5,533.7 964.1,533.6C965.7,533.6 967.7,533.5 969.5,533.4C971.4,533.3 973.2,533.2 975.0,533.1C976.8,533.0 978.9,532.8 980.5,532.5C982.0,532.3 983.2,532.0 984.5,531.6C985.9,531.2 987.5,530.5 988.6,530.2C989.8,529.9 990.5,529.8 991.4,529.8C992.3,529.9 993.6,530.4 994.1,530.5" fill="none" stroke="#0870bf" stroke-width="2.4" stroke-linejoin="round" stroke-linecap="round"/>
<path d="M81.6,480.7C81.9,481.0 83.0,482.1 83.6,482.4C84.3,482.8 85.0,483.1 85.7,482.7C86.3,482.4 86.8,481.4 87.5,480.3C88.1,479.1 88.9,476.2 89.5,475.9C90.1,475.6 90.5,477.4 91.1,478.6C91.8,479.9 92.5,482.0 93.2,483.4C93.9,484.8 94.6,486.0 95.2,486.8C95.8,487.7 96.3,488.5 96.9,488.4C97.4,488.4 98.0,487.4 98.6,486.6C99.3,485.7 100.0,484.1 100.7,483.4C101.4,482.7 102.0,482.1 102.7,482.4C103.4,482.8 104.0,484.2 104.8,485.4C105.6,486.7 106.5,488.6 107.5,490.2C108.5,491.9 109.9,493.8 110.9,495.3C111.9,496.7 112.9,498.1 113.6,498.8C114.4,499.6 114.7,500.0 115.3,499.8C115.8,499.6 116.4,498.3 117.0,497.7C117.7,497.1 118.5,496.3 119.4,496.1C120.3,495.9 121.6,496.3 122.5,496.4C123.4,496.5 124.1,497.0 124.8,496.6C125.6,496.3 126.3,494.3 127.0,494.3C127.7,494.3 128.2,495.6 128.9,496.6C129.6,497.7 130.5,499.0 131.4,500.4C132.2,501.9 133.3,503.9 134.1,505.2C134.9,506.6 135.3,507.6 136.1,508.6C136.9,509.7 138.1,510.4 138.9,511.4C139.7,512.3 140.2,513.1 140.9,514.4C141.6,515.6 142.3,517.3 142.9,518.9C143.6,520.5 144.1,523.8 144.6,523.9C145.1,524.0 145.6,520.8 146.1,519.5C146.6,518.3 146.8,516.8 147.4,516.1C148.1,515.5 149.1,516.3 149.8,515.5C150.5,514.6 151.0,512.2 151.6,511.1C152.1,510.0 152.4,508.8 152.9,508.9C153.4,509.1 153.9,510.6 154.6,512.0C155.2,513.5 155.8,515.7 156.6,517.5C157.4,519.3 158.3,521.2 159.3,523.0C160.3,524.7 161.6,526.6 162.7,527.7C163.9,528.9 165.2,529.7 166.1,529.8C167.0,529.9 167.5,529.3 168.2,528.4C168.9,527.5 169.5,525.2 170.2,524.3C170.9,523.4 171.6,522.7 172.3,523.0C173.0,523.2 173.5,524.2 174.3,525.7C175.1,527.2 176.1,530.0 177.1,531.8C178.0,533.6 179.0,535.2 179.8,536.6C180.6,538.0 181.0,539.5 181.8,540.0C182.6,540.5 183.7,539.3 184.6,539.3C185.4,539.3 186.2,539.5 187.0,540.0C187.8,540.5 188.6,541.1 189.3,542.0C190.0,543.0 190.6,544.8 191.4,545.7C192.1,546.6 193.0,546.6 193.8,547.5C194.6,548.4 195.3,549.8 196.1,550.9C197.0,552.0 198.1,553.9 198.9,554.3C199.7,554.8 200.0,554.3 200.9,553.6C201.8,553.0 203.3,551.2 204.3,550.2C205.3,549.3 206.3,548.4 207.1,547.9C207.8,547.4 208.3,546.8 208.8,547.2C209.4,547.7 209.8,550.9 210.5,550.6C211.1,550.3 211.8,547.9 212.5,545.5C213.2,543.0 213.9,538.4 214.6,535.9C215.2,533.4 216.0,533.2 216.6,530.5C217.3,527.7 217.8,521.8 218.4,519.5C219.0,517.3 219.5,517.7 220.4,517.1C221.4,516.5 222.6,516.1 223.9,516.1C225.1,516.2 226.9,517.5 227.9,517.5C229.0,517.5 229.6,517.5 230.3,516.1C231.0,514.8 231.4,511.0 232.1,509.3C232.7,507.6 233.3,506.8 234.1,505.9C234.9,505.0 236.0,504.6 236.8,503.9C237.6,503.1 238.3,502.0 238.9,501.6C239.4,501.1 239.7,500.3 240.2,501.1C240.8,502.0 241.6,504.9 242.3,506.6C243.0,508.2 243.6,509.7 244.3,511.1C245.0,512.5 245.6,513.9 246.4,514.8C247.2,515.7 248.3,515.8 249.1,516.5C249.9,517.3 250.5,517.9 251.1,519.5C251.8,521.2 252.3,524.3 252.9,526.4C253.5,528.4 254.1,530.6 254.6,531.8C255.1,533.0 255.3,533.5 255.9,533.5C256.5,533.5 257.6,532.2 258.4,531.8C259.2,531.4 260.0,530.9 260.7,531.1C261.4,531.4 261.9,532.3 262.7,533.2C263.6,534.1 264.7,535.5 265.7,536.6C266.8,537.7 268.0,538.9 268.9,540.0C269.7,541.1 270.2,542.5 270.9,543.4C271.7,544.4 272.6,545.7 273.4,545.7C274.2,545.7 275.0,544.4 275.7,543.4C276.4,542.5 277.2,541.5 277.7,540.0C278.3,538.5 278.6,536.0 279.1,534.5C279.5,533.1 279.8,532.3 280.4,531.1C281.1,530.0 282.3,529.0 283.2,527.7C284.1,526.5 285.0,524.4 285.9,523.6C286.8,522.8 287.5,523.0 288.6,523.0C289.8,523.0 291.5,523.2 292.7,523.6C294.0,524.1 295.0,524.8 296.1,525.7C297.3,526.5 298.5,527.7 299.6,528.8C300.6,530.0 301.6,531.5 302.3,532.5C303.0,533.5 303.1,534.6 303.6,534.8C304.2,535.0 304.9,534.5 305.7,533.9C306.5,533.2 307.4,531.9 308.4,531.1C309.4,530.4 311.0,530.3 311.8,529.4C312.7,528.5 312.9,526.4 313.4,525.7C313.9,525.0 314.3,524.8 314.8,525.0C315.3,525.2 315.8,526.0 316.6,527.0C317.3,528.1 318.4,529.7 319.3,531.1C320.2,532.6 321.3,534.7 322.1,535.9C322.8,537.1 323.3,537.9 324.1,538.4C324.9,538.8 326.0,538.1 326.8,538.6C327.6,539.1 328.1,540.5 328.9,541.4C329.7,542.3 330.6,543.2 331.6,544.1C332.6,545.0 333.9,545.9 335.0,546.8C336.1,547.8 337.3,549.7 338.4,549.8C339.5,550.0 340.7,547.9 341.8,547.8C343.0,547.6 344.0,548.5 345.2,548.9C346.5,549.3 348.0,549.8 349.3,550.2C350.7,550.6 352.2,550.7 353.4,551.2C354.7,551.6 355.8,552.1 356.8,553.0C357.8,553.8 358.7,555.3 359.6,556.4C360.4,557.4 361.3,559.2 362.1,559.3C362.8,559.5 363.3,558.0 364.1,557.3C364.9,556.6 365.9,555.8 366.8,555.2C367.8,554.7 369.0,553.9 369.8,553.9C370.7,553.8 371.4,555.2 372.0,554.8C372.6,554.5 373.0,552.8 373.6,551.8C374.3,550.8 374.9,549.2 375.7,548.8C376.5,548.5 377.6,550.0 378.4,549.8C379.2,549.6 379.9,549.2 380.4,547.7C381.0,546.3 381.3,543.0 381.8,540.9C382.4,538.9 383.1,537.0 383.9,535.5C384.7,533.9 385.7,532.2 386.6,531.4C387.5,530.5 388.5,530.2 389.3,530.3C390.2,530.3 391.0,531.2 391.6,531.6C392.3,532.1 392.7,533.0 393.4,533.0C394.2,533.0 395.1,531.7 396.1,531.4C397.2,531.0 398.6,531.2 399.6,530.7C400.5,530.1 401.0,529.3 401.6,528.0C402.2,526.6 402.8,523.6 403.4,522.5C403.9,521.4 404.3,521.2 405.0,521.1C405.7,521.1 406.8,522.1 407.7,522.1C408.6,522.1 409.5,521.6 410.4,521.1C411.4,520.6 412.4,519.3 413.2,519.1C414.0,518.9 414.5,519.2 415.2,519.8C415.9,520.3 416.5,521.6 417.3,522.5C418.1,523.4 419.2,523.9 420.0,525.2C420.8,526.6 421.3,529.3 422.1,530.7C422.8,532.0 423.9,532.6 424.8,533.4C425.7,534.2 426.6,534.7 427.5,535.5C428.4,536.2 429.4,537.3 430.2,538.2C431.0,539.1 431.7,539.7 432.3,540.9C432.8,542.2 433.1,544.4 433.6,545.7C434.2,546.9 434.9,547.9 435.7,548.4C436.5,548.9 437.6,548.7 438.4,548.8C439.2,548.9 439.8,548.9 440.4,549.1C441.1,549.2 441.7,550.0 442.5,549.8C443.3,549.5 444.4,548.5 445.2,547.7C446.0,546.9 446.6,545.6 447.3,545.0C448.0,544.4 448.5,544.1 449.3,544.3C450.1,544.5 451.3,545.2 452.1,546.4C452.8,547.5 453.3,549.7 454.1,551.1C454.9,552.6 455.9,554.0 456.8,555.2C457.7,556.5 458.8,557.8 459.6,558.6C460.3,559.5 460.9,560.6 461.6,560.3C462.3,559.9 463.0,558.2 463.6,556.6C464.3,555.0 465.0,551.7 465.7,550.5C466.3,549.2 466.9,548.8 467.5,548.8C468.0,548.8 468.5,549.6 469.1,550.5C469.7,551.3 470.6,553.1 471.1,553.9C471.6,554.6 471.7,555.4 472.1,554.8C472.5,554.3 473.0,551.4 473.5,550.5C473.9,549.5 474.3,548.7 474.8,549.1C475.3,549.4 476.0,551.1 476.6,552.5C477.2,553.9 478.0,555.9 478.6,557.3C479.3,558.6 479.9,559.5 480.7,560.7C481.5,561.8 482.5,563.0 483.4,564.1C484.3,565.2 485.5,566.5 486.1,567.5C486.8,568.5 486.9,568.8 487.5,570.0C488.1,571.1 489.2,573.9 490.0,574.3C490.8,574.7 491.4,572.8 492.1,572.3C492.7,571.7 493.5,570.9 494.1,570.9C494.7,570.9 495.3,571.1 495.7,572.3C496.2,573.4 496.3,576.6 496.8,577.7C497.3,578.8 498.2,578.8 498.9,578.8C499.5,578.9 500.1,577.8 500.9,578.0C501.7,578.2 502.7,579.3 503.6,579.8C504.5,580.2 505.6,580.3 506.4,580.7C507.2,581.2 507.7,581.6 508.4,582.5C509.1,583.4 509.8,585.1 510.4,586.2C511.1,587.2 511.7,588.8 512.2,588.9C512.8,589.0 513.3,587.8 513.9,586.6C514.4,585.4 515.1,583.5 515.6,581.8C516.2,580.1 516.8,578.1 517.3,576.4C517.8,574.7 518.3,572.7 518.6,571.6C519.0,570.5 519.2,569.4 519.6,569.8C519.9,570.3 520.3,573.0 520.7,574.3C521.1,575.7 521.5,577.7 522.0,578.0C522.6,578.3 523.4,577.0 524.1,576.4C524.8,575.7 525.5,574.6 526.1,574.3C526.8,574.0 527.4,574.0 528.2,574.7C529.0,575.4 530.0,577.3 530.9,578.4C531.8,579.5 532.7,580.9 533.6,581.5C534.5,582.2 535.6,582.5 536.4,582.5C537.2,582.5 537.8,582.6 538.4,581.8C539.0,581.0 539.3,579.5 539.8,577.7C540.2,575.9 540.6,572.5 541.1,570.9C541.7,569.3 542.5,568.7 543.2,568.2C543.9,567.6 544.5,567.5 545.2,567.5C545.9,567.5 546.5,567.7 547.3,568.5C548.1,569.2 549.1,571.0 550.0,572.3C550.9,573.6 551.9,575.3 552.7,576.4C553.6,577.5 554.4,578.6 555.2,578.8C556.0,579.0 556.8,578.0 557.5,577.7C558.2,577.5 558.8,577.1 559.5,577.3C560.3,577.5 561.4,578.4 562.3,578.8C563.1,579.2 563.9,579.8 564.7,579.8C565.5,579.7 566.4,579.3 567.0,578.4C567.7,577.5 568.3,575.2 568.8,574.3C569.4,573.4 570.0,572.6 570.5,573.0C571.0,573.3 571.3,575.3 571.8,576.4C572.4,577.4 573.1,578.5 573.9,579.4C574.7,580.3 575.8,581.5 576.6,581.8C577.3,582.2 577.8,582.2 578.4,581.5C578.9,580.9 579.5,578.8 580.0,578.0C580.5,577.2 581.0,576.9 581.6,576.6C582.3,576.4 583.3,576.6 584.1,576.4C584.8,576.1 585.5,575.9 586.1,575.0C586.8,574.1 587.2,572.0 587.9,570.9C588.6,569.8 589.4,568.7 590.2,568.2C591.1,567.7 591.9,567.8 593.0,567.8C594.0,567.8 595.3,568.2 596.4,568.2C597.4,568.2 598.3,568.2 599.1,567.9C599.9,567.6 600.5,567.5 601.1,566.5C601.8,565.6 602.4,563.3 603.2,562.0C604.0,560.8 605.0,560.1 605.9,559.3C606.8,558.5 607.8,557.9 608.6,557.3C609.5,556.7 610.4,555.9 611.1,555.6C611.8,555.4 612.4,555.3 613.0,555.9C613.6,556.5 614.1,558.1 614.8,559.3C615.4,560.6 616.0,562.3 616.8,563.4C617.6,564.5 618.6,565.1 619.5,565.7C620.5,566.3 621.4,566.6 622.3,567.1C623.2,567.6 624.2,568.7 625.0,568.9C625.8,569.0 626.4,568.3 627.0,567.9C627.7,567.5 628.3,566.7 629.1,566.5C629.9,566.4 630.9,566.8 631.8,567.1C632.7,567.4 633.1,568.8 634.5,568.6C636.0,568.4 638.9,566.7 640.2,565.7C641.6,564.6 641.8,563.1 642.5,562.3C643.3,561.5 644.2,561.0 645.0,560.9C645.8,560.8 646.3,561.0 647.0,561.6C647.8,562.2 648.9,563.5 649.8,564.3C650.7,565.2 651.7,565.8 652.5,566.6C653.3,567.4 653.9,568.1 654.5,569.1C655.2,570.1 656.0,571.6 656.6,572.5C657.2,573.4 657.4,574.5 658.0,574.5C658.5,574.6 659.2,572.9 659.7,572.9C660.3,572.9 660.6,573.6 661.1,574.5C661.6,575.5 662.2,578.2 662.7,578.4C663.3,578.5 663.8,576.2 664.4,575.6C664.9,575.0 665.5,574.8 666.1,574.8C666.8,574.8 667.5,575.8 668.2,575.6C668.9,575.5 669.5,574.6 670.2,573.9C670.9,573.1 671.6,572.2 672.3,571.1C673.0,570.1 673.6,568.9 674.3,567.7C675.0,566.6 675.7,565.1 676.4,564.3C677.0,563.5 677.8,563.0 678.4,563.0C679.0,563.0 679.5,563.6 680.2,564.3C680.9,565.1 681.8,566.8 682.5,567.5C683.2,568.1 683.9,568.7 684.5,568.4C685.2,568.1 686.1,565.1 686.6,565.7C687.0,566.2 686.9,569.7 687.3,571.8C687.6,574.0 688.1,576.4 688.6,578.6C689.1,580.9 689.7,583.5 690.3,585.5C690.8,587.5 691.4,590.0 692.0,590.6C692.7,591.3 693.4,589.8 694.1,589.5C694.8,589.3 695.6,588.6 696.1,589.3C696.7,590.0 697.0,592.0 697.5,593.6C698.0,595.3 698.3,597.8 698.9,599.1C699.4,600.3 700.1,601.0 700.6,601.1C701.2,601.3 701.8,601.2 702.3,600.2C702.8,599.2 703.2,596.8 703.6,595.0C704.0,593.2 704.2,590.8 704.7,589.5C705.3,588.3 706.3,587.7 707.0,587.5C707.8,587.3 708.3,587.8 709.1,588.2C709.9,588.6 710.9,589.2 711.8,589.8C712.7,590.5 713.8,591.1 714.5,592.0C715.3,592.9 715.9,594.3 716.6,595.0C717.3,595.7 718.0,595.9 718.6,596.4C719.3,596.9 720.0,597.9 720.7,598.0C721.3,598.1 721.9,597.8 722.5,597.0C723.0,596.3 723.2,594.3 723.8,593.6C724.4,593.0 725.3,592.9 726.1,593.0C727.0,593.0 728.0,593.8 728.9,593.9C729.8,594.0 730.7,593.6 731.6,593.6C732.4,593.6 733.1,593.5 733.9,593.9C734.7,594.4 735.5,595.4 736.4,596.4C737.2,597.3 738.2,598.7 739.1,599.8C740.0,600.9 740.8,602.0 741.8,602.9C742.8,603.8 744.1,604.5 745.2,605.2C746.4,605.9 747.6,606.5 748.6,607.0C749.7,607.5 750.6,608.4 751.4,608.0C752.2,607.5 752.7,605.8 753.4,604.5C754.1,603.3 754.8,601.5 755.5,600.5C756.1,599.4 756.7,598.5 757.5,598.0C758.3,597.5 759.3,598.0 760.2,597.7C761.1,597.5 762.2,596.8 763.0,596.6C763.8,596.5 764.3,596.2 765.0,596.6C765.7,597.0 766.4,598.2 767.0,599.1C767.7,600.0 768.3,601.1 768.8,601.8C769.3,602.5 769.3,602.7 770.0,603.2C770.7,603.6 771.8,604.1 772.7,604.5C773.6,605.0 774.7,605.3 775.5,605.9C776.2,606.5 776.8,607.7 777.5,608.4C778.2,609.0 778.9,609.8 779.5,610.0C780.2,610.2 780.9,609.7 781.6,609.6C782.3,609.5 782.8,609.1 783.6,609.3C784.4,609.6 785.5,610.5 786.4,611.1C787.3,611.7 788.2,612.6 789.1,613.0C790.0,613.4 790.9,613.4 791.8,613.4C792.7,613.4 793.6,613.2 794.5,613.1C795.5,613.1 796.4,612.7 797.3,613.0C798.2,613.3 799.0,614.4 800.0,615.2C801.0,616.0 802.3,617.1 803.4,617.9C804.5,618.8 805.7,619.5 806.8,620.2C808.0,621.0 809.1,621.5 810.2,622.3C811.4,623.0 812.6,624.3 813.6,624.6C814.7,624.9 815.5,623.9 816.4,624.0C817.3,624.2 818.2,625.0 819.1,625.3C820.0,625.5 821.0,626.1 821.8,625.7C822.6,625.3 823.2,623.7 823.9,623.0C824.5,622.2 825.2,621.2 825.9,620.9C826.6,620.6 827.3,620.7 828.0,620.9C828.6,621.1 829.3,621.7 830.0,622.0C830.7,622.3 831.5,623.2 832.0,623.0C832.6,622.7 833.0,621.7 833.4,620.2C833.8,618.8 834.0,616.4 834.4,614.1C834.7,611.8 835.0,608.4 835.5,606.6C835.9,604.8 836.4,603.9 837.1,603.2C837.8,602.4 838.8,602.5 839.5,602.1C840.3,601.6 841.0,600.8 841.6,600.5C842.2,600.1 842.4,599.7 843.0,600.0C843.5,600.4 844.2,601.6 844.7,602.5C845.3,603.4 845.8,604.6 846.4,605.2C846.9,605.8 847.4,606.2 848.0,606.2C848.6,606.1 849.1,605.4 849.8,604.8C850.4,604.2 851.2,603.1 851.8,602.5C852.4,601.9 852.9,601.3 853.5,601.4C854.0,601.6 854.6,602.9 855.2,603.5C855.9,604.0 856.5,604.7 857.3,605.0C858.1,605.2 859.1,605.1 860.0,605.0C860.9,604.8 861.9,603.8 862.7,604.0C863.5,604.2 864.1,605.3 864.8,605.9C865.5,606.6 866.0,607.4 866.8,608.0C867.6,608.5 868.6,609.0 869.5,609.0C870.5,609.1 871.4,608.4 872.3,608.4C873.2,608.3 874.0,608.9 875.0,608.9C876.0,609.0 877.5,608.3 878.4,608.6C879.4,609.0 879.9,610.3 880.7,611.1C881.5,611.9 882.3,612.7 883.2,613.4C884.0,614.1 885.3,614.4 885.9,615.2C886.5,616.0 886.6,617.6 887.0,618.2C887.4,618.8 887.9,619.0 888.4,618.9C888.9,618.7 889.3,617.3 890.0,617.1C890.7,616.9 891.9,617.3 892.7,617.5C893.5,617.7 894.1,618.6 894.8,618.5C895.5,618.3 896.1,617.5 896.8,616.8C897.5,616.1 898.2,615.0 898.9,614.1C899.5,613.2 900.1,611.9 900.6,611.4C901.2,610.8 901.5,610.6 902.0,610.7C902.5,610.8 903.0,611.7 903.6,612.0C904.3,612.4 904.9,612.6 905.7,612.7C906.5,612.9 907.5,612.8 908.4,613.0C909.3,613.2 910.3,613.8 911.1,614.1C911.9,614.4 912.5,614.9 913.2,614.8C913.9,614.7 914.5,613.8 915.2,613.4C915.9,613.0 916.6,612.4 917.3,612.3C918.0,612.3 918.6,612.5 919.3,613.0C920.0,613.5 920.6,614.4 921.4,615.2C922.1,615.9 923.1,617.1 923.8,617.5C924.5,617.9 925.0,617.8 925.7,617.8C926.5,617.8 927.3,617.4 928.2,617.5C929.0,617.6 930.1,618.3 930.9,618.6C931.7,618.9 932.3,618.9 933.0,619.3C933.6,619.7 934.3,620.5 935.0,620.9C935.7,621.4 936.3,621.7 937.0,622.0C937.8,622.3 938.9,622.5 939.8,622.7C940.7,622.8 941.7,622.9 942.5,623.0C943.3,623.0 944.0,623.3 944.5,623.0C945.1,622.6 945.2,623.0 945.6,620.9C946.0,618.9 946.5,612.8 947.0,610.7C947.5,608.5 948.2,608.6 948.9,608.0C949.6,607.3 950.4,607.0 951.1,606.9C951.8,606.7 952.3,606.7 953.0,607.0C953.7,607.3 954.6,608.3 955.5,608.6C956.3,609.0 957.3,608.9 958.2,609.0C959.1,609.2 960.0,609.4 960.9,609.7C961.8,610.0 962.7,610.7 963.6,611.0C964.5,611.2 965.5,611.2 966.4,611.4C967.3,611.5 968.2,611.8 969.1,612.0C970.0,612.3 970.9,612.7 971.8,612.7C972.7,612.8 973.6,612.5 974.5,612.2C975.5,611.9 976.4,611.3 977.3,611.1C978.2,610.8 979.1,610.9 980.0,610.7C980.9,610.5 981.9,610.3 982.7,609.7C983.5,609.2 984.1,608.2 984.8,607.3C985.4,606.3 985.9,604.9 986.5,603.9C987.2,602.8 987.7,601.9 988.5,601.1C989.2,600.4 990.1,599.9 990.9,599.4C991.7,598.8 992.6,598.1 993.4,597.7C994.2,597.3 995.0,597.2 995.7,597.0C996.4,596.9 997.0,596.9 997.7,597.0C998.4,597.2 999.1,597.5 999.8,597.7C1000.4,597.9 1001.3,598.1 1001.5,598.1" fill="none" stroke="#cc8f4a" stroke-width="2.3" stroke-linejoin="round" stroke-linecap="round"/>
<circle cx="920.75" cy="347.3" r="4.75" fill="#0870bf"/>
<circle cx="1039.25" cy="347.3" r="4.75" fill="#cc8f4a"/>
<circle cx="919.25" cy="730.5" r="4.75" fill="#0870bf"/>
<circle cx="1026.75" cy="730.5" r="4.75" fill="#cc8f4a"/>
</svg>
<div class="grp" id="t1">
<div id="t1w0" class="t" style="left:2.30px;top:-2.40px;font-size:20px;font-weight:700;color:#0870bf;transform:scaleX(0.5232);transform-origin:0 0">[</div>
<div id="t1w1" class="t" style="left:6.30px;top:1.89px;font-size:18.6px;font-weight:500;color:#0870bf;-webkit-text-stroke:0.5px currentColor;transform:scaleX(0.9248);transform-origin:0 0">그림</div>
<div id="t1w2" class="t" style="left:43.50px;top:-1.20px;font-size:23px;font-weight:700;color:#0870bf;transform:scaleX(0.6903);transform-origin:0 0">3</div>
<div id="t1w3" class="t" style="left:53.40px;top:-2.40px;font-size:20px;font-weight:700;color:#0870bf;transform:scaleX(0.6323);transform-origin:0 0">]</div>
<div id="t1w4" class="t" style="left:62.70px;top:1.89px;font-size:18.6px;font-weight:500;color:#0870bf;-webkit-text-stroke:0.5px currentColor;transform:scaleX(0.9488);transform-origin:0 0">미국</div>
<div id="t1w5" class="t" style="left:101.20px;top:0.89px;font-size:18.6px;font-weight:500;color:#0870bf;-webkit-text-stroke:0.5px currentColor;transform:scaleX(0.8528);transform-origin:0 0">정책</div>
<div id="t1w6" class="t" style="left:135.30px;top:1.89px;font-size:18.6px;font-weight:500;color:#0870bf;-webkit-text-stroke:0.5px currentColor;transform:scaleX(0.9594);transform-origin:0 0">금리와</div>
<div id="t1w7" class="t" style="left:189.70px;top:1.89px;font-size:18.6px;font-weight:500;color:#0870bf;-webkit-text-stroke:0.5px currentColor;transform:scaleX(0.9678);transform-origin:0 0">모기지</div>
<div id="t1w8" class="t" style="left:242.30px;top:1.89px;font-size:18.6px;font-weight:500;color:#0870bf;-webkit-text-stroke:0.5px currentColor;transform:scaleX(0.9850);transform-origin:0 0">금리</div>
<div id="t1w9" class="t" style="left:279.00px;top:1.89px;font-size:18.6px;font-weight:500;color:#0870bf;-webkit-text-stroke:0.5px currentColor;transform:scaleX(0.9404);transform-origin:0 0">추이</div>
</div>
<div class="grp" id="t2">
<div id="t2w0" class="t" style="left:2.40px;top:374.50px;font-size:20px;font-weight:700;color:#0870bf;transform:scaleX(0.5232);transform-origin:0 0">[</div>
<div id="t2w1" class="t" style="left:6.40px;top:378.94px;font-size:18.6px;font-weight:500;color:#0870bf;-webkit-text-stroke:0.5px currentColor;transform:scaleX(0.9259);transform-origin:0 0">그림</div>
<div id="t2w2" class="t" style="left:42.80px;top:375.70px;font-size:23px;font-weight:700;color:#0870bf;transform:scaleX(0.6630);transform-origin:0 0">4</div>
<div id="t2w3" class="t" style="left:53.60px;top:374.50px;font-size:20px;font-weight:700;color:#0870bf;transform:scaleX(0.5393);transform-origin:0 0">]</div>
<div id="t2w4" class="t" style="left:62.00px;top:378.94px;font-size:18.6px;font-weight:500;color:#0870bf;-webkit-text-stroke:0.5px currentColor;transform:scaleX(0.9682);transform-origin:0 0">미국</div>
<div id="t2w5" class="t" style="left:99.20px;top:378.94px;font-size:18.6px;font-weight:500;color:#0870bf;-webkit-text-stroke:0.5px currentColor;transform:scaleX(0.9641);transform-origin:0 0">모기지</div>
<div id="t2w6" class="t" style="left:152.00px;top:378.94px;font-size:18.6px;font-weight:500;color:#0870bf;-webkit-text-stroke:0.5px currentColor;transform:scaleX(0.9750);transform-origin:0 0">금리와</div>
<div id="t2w7" class="t" style="left:203.80px;top:378.94px;font-size:18.6px;font-weight:500;color:#0870bf;-webkit-text-stroke:0.5px currentColor;transform:scaleX(0.9821);transform-origin:0 0">주택</div>
<div id="t2w8" class="t" style="left:241.80px;top:378.94px;font-size:18.6px;font-weight:500;color:#0870bf;-webkit-text-stroke:0.5px currentColor;transform:scaleX(0.9777);transform-origin:0 0">가격</div>
<div id="t2w9" class="t" style="left:279.20px;top:377.94px;font-size:18.6px;font-weight:500;color:#0870bf;-webkit-text-stroke:0.5px currentColor;transform:scaleX(0.9659);transform-origin:0 0">상승률</div>
<div id="t2w10" class="t" style="left:331.40px;top:378.94px;font-size:18.6px;font-weight:500;color:#0870bf;-webkit-text-stroke:0.5px currentColor;transform:scaleX(0.9752);transform-origin:0 0">추이</div>
</div>
<div id="u1" class="t" style="left:23.00px;top:34.60px;font-size:14px;font-weight:400;color:#0870bf;transform:scaleX(0.9774);transform-origin:0 0">(%)</div>
<div id="u2" class="t" style="left:8.00px;top:417.60px;font-size:14px;font-weight:400;color:#0870bf;transform:scaleX(0.8906);transform-origin:0 0">(%, YoY)</div>
<div id="u3" class="t" style="left:1074.00px;top:416.60px;font-size:14px;font-weight:400;color:#0870bf;transform:scaleX(1.0139);transform-origin:0 0">(%)</div>
<div id="a0" class="t" style="left:10.00px;top:71.40px;width:30px;text-align:right;font-size:14px;font-weight:400;color:#0870bf;transform:scaleX(0.9600);transform-origin:100% 0">12</div>
<div id="a1" class="t" style="left:10.00px;top:100.88px;width:30px;text-align:right;font-size:14px;font-weight:400;color:#0870bf;transform:scaleX(0.9600);transform-origin:100% 0">10</div>
<div id="a2" class="t" style="left:10.00px;top:130.36px;width:30px;text-align:right;font-size:14px;font-weight:400;color:#0870bf;transform:scaleX(0.9600);transform-origin:100% 0">8</div>
<div id="a3" class="t" style="left:10.00px;top:158.84px;width:30px;text-align:right;font-size:14px;font-weight:400;color:#0870bf;transform:scaleX(0.9600);transform-origin:100% 0">6</div>
<div id="a4" class="t" style="left:10.00px;top:188.32px;width:30px;text-align:right;font-size:14px;font-weight:400;color:#0870bf;transform:scaleX(0.9600);transform-origin:100% 0">4</div>
<div id="a5" class="t" style="left:10.00px;top:216.80px;width:30px;text-align:right;font-size:14px;font-weight:400;color:#0870bf;transform:scaleX(0.9600);transform-origin:100% 0">2</div>
<div id="a6" class="t" style="left:10.00px;top:246.28px;width:30px;text-align:right;font-size:14px;font-weight:400;color:#0870bf;transform:scaleX(0.9600);transform-origin:100% 0">0</div>
<div id="b0" class="t" style="left:-6.00px;top:455.20px;width:30px;text-align:right;font-size:14px;font-weight:400;color:#0870bf;transform:scaleX(0.9600);transform-origin:100% 0">20</div>
<div id="b1" class="t" style="left:-6.00px;top:480.16px;width:30px;text-align:right;font-size:14px;font-weight:400;color:#0870bf;transform:scaleX(0.9600);transform-origin:100% 0">15</div>
<div id="b2" class="t" style="left:-6.00px;top:503.92px;width:30px;text-align:right;font-size:14px;font-weight:400;color:#0870bf;transform:scaleX(0.9600);transform-origin:100% 0">10</div>
<div id="b3" class="t" style="left:-6.00px;top:528.88px;width:30px;text-align:right;font-size:14px;font-weight:400;color:#0870bf;transform:scaleX(0.9600);transform-origin:100% 0">5</div>
<div id="b4" class="t" style="left:-6.00px;top:553.64px;width:30px;text-align:right;font-size:14px;font-weight:400;color:#0870bf;transform:scaleX(0.9600);transform-origin:100% 0">0</div>
<div id="b5" class="t" style="left:-6.00px;top:579.00px;width:30px;text-align:right;font-size:14px;font-weight:400;color:#0870bf;transform:scaleX(0.9600);transform-origin:100% 0">−5</div>
<div id="b6" class="t" style="left:-6.00px;top:604.36px;width:30px;text-align:right;font-size:14px;font-weight:400;color:#0870bf;transform:scaleX(0.9600);transform-origin:100% 0">−10</div>
<div id="b7" class="t" style="left:-6.00px;top:628.72px;width:30px;text-align:right;font-size:14px;font-weight:400;color:#0870bf;transform:scaleX(0.9600);transform-origin:100% 0">−15</div>
<div id="c0" class="t" style="left:1074.00px;top:455.20px;font-size:14px;font-weight:400;color:#0870bf;transform:scaleX(0.9600);transform-origin:0 0">11</div>
<div id="c1" class="t" style="left:1074.00px;top:477.08px;font-size:14px;font-weight:400;color:#0870bf;transform:scaleX(0.9600);transform-origin:0 0">10</div>
<div id="c2" class="t" style="left:1075.00px;top:498.16px;font-size:14px;font-weight:400;color:#0870bf;transform:scaleX(0.9600);transform-origin:0 0">9</div>
<div id="c3" class="t" style="left:1075.00px;top:519.84px;font-size:14px;font-weight:400;color:#0870bf;transform:scaleX(0.9600);transform-origin:0 0">8</div>
<div id="c4" class="t" style="left:1075.00px;top:542.12px;font-size:14px;font-weight:400;color:#0870bf;transform:scaleX(0.9600);transform-origin:0 0">7</div>
<div id="c5" class="t" style="left:1075.00px;top:563.20px;font-size:14px;font-weight:400;color:#0870bf;transform:scaleX(0.9600);transform-origin:0 0">6</div>
<div id="c6" class="t" style="left:1075.00px;top:585.28px;font-size:14px;font-weight:400;color:#0870bf;transform:scaleX(0.9600);transform-origin:0 0">5</div>
<div id="c7" class="t" style="left:1075.00px;top:606.96px;font-size:14px;font-weight:400;color:#0870bf;transform:scaleX(0.9600);transform-origin:0 0">4</div>
<div id="c8" class="t" style="left:1075.00px;top:628.44px;font-size:14px;font-weight:400;color:#0870bf;transform:scaleX(0.9600);transform-origin:0 0">3</div>
<div id="y0" class="t" style="left:99.00px;top:294.20px;font-size:13px;font-weight:400;color:#0870bf;transform:scaleX(0.9731);transform-origin:0 0">1990</div>
<div id="y1" class="t" style="left:132.79px;top:294.20px;font-size:13px;font-weight:400;color:#0870bf;transform:scaleX(0.9731);transform-origin:0 0">1991</div>
<div id="y2" class="t" style="left:166.57px;top:294.20px;font-size:13px;font-weight:400;color:#0870bf;transform:scaleX(0.9731);transform-origin:0 0">1992</div>
<div id="y3" class="t" style="left:200.36px;top:294.20px;font-size:13px;font-weight:400;color:#0870bf;transform:scaleX(0.9731);transform-origin:0 0">1993</div>
<div id="y4" class="t" style="left:234.14px;top:294.20px;font-size:13px;font-weight:400;color:#0870bf;transform:scaleX(0.9731);transform-origin:0 0">1994</div>
<div id="y5" class="t" style="left:267.93px;top:294.20px;font-size:13px;font-weight:400;color:#0870bf;transform:scaleX(0.9731);transform-origin:0 0">1995</div>
<div id="y6" class="t" style="left:301.71px;top:294.20px;font-size:13px;font-weight:400;color:#0870bf;transform:scaleX(0.9731);transform-origin:0 0">1996</div>
<div id="y7" class="t" style="left:335.50px;top:294.20px;font-size:13px;font-weight:400;color:#0870bf;transform:scaleX(0.9731);transform-origin:0 0">1997</div>
<div id="y8" class="t" style="left:369.29px;top:294.20px;font-size:13px;font-weight:400;color:#0870bf;transform:scaleX(0.9731);transform-origin:0 0">1998</div>
<div id="y9" class="t" style="left:403.07px;top:294.20px;font-size:13px;font-weight:400;color:#0870bf;transform:scaleX(0.9731);transform-origin:0 0">1999</div>
<div id="y10" class="t" style="left:436.86px;top:294.20px;font-size:13px;font-weight:400;color:#0870bf;transform:scaleX(0.9427);transform-origin:0 0">2000</div>
<div id="y11" class="t" style="left:470.64px;top:294.20px;font-size:13px;font-weight:400;color:#0870bf;transform:scaleX(0.9427);transform-origin:0 0">2001</div>
<div id="y12" class="t" style="left:504.43px;top:294.20px;font-size:13px;font-weight:400;color:#0870bf;transform:scaleX(0.9427);transform-origin:0 0">2002</div>
<div id="y13" class="t" style="left:538.21px;top:294.20px;font-size:13px;font-weight:400;color:#0870bf;transform:scaleX(0.9427);transform-origin:0 0">2003</div>
<div id="y14" class="t" style="left:572.00px;top:294.20px;font-size:13px;font-weight:400;color:#0870bf;transform:scaleX(0.9146);transform-origin:0 0">2004</div>
<div id="y15" class="t" style="left:605.79px;top:294.20px;font-size:13px;font-weight:400;color:#0870bf;transform:scaleX(0.9427);transform-origin:0 0">2005</div>
<div id="y16" class="t" style="left:639.57px;top:294.20px;font-size:13px;font-weight:400;color:#0870bf;transform:scaleX(0.9427);transform-origin:0 0">2006</div>
<div id="y17" class="t" style="left:673.36px;top:294.20px;font-size:13px;font-weight:400;color:#0870bf;transform:scaleX(0.9427);transform-origin:0 0">2007</div>
<div id="y18" class="t" style="left:707.14px;top:294.20px;font-size:13px;font-weight:400;color:#0870bf;transform:scaleX(0.9427);transform-origin:0 0">2008</div>
<div id="y19" class="t" style="left:740.93px;top:294.20px;font-size:13px;font-weight:400;color:#0870bf;transform:scaleX(0.9427);transform-origin:0 0">2009</div>
<div id="y20" class="t" style="left:774.71px;top:294.20px;font-size:13px;font-weight:400;color:#0870bf;transform:scaleX(0.9427);transform-origin:0 0">2010</div>
<div id="y21" class="t" style="left:808.50px;top:294.20px;font-size:13px;font-weight:400;color:#0870bf;transform:scaleX(0.9731);transform-origin:0 0">2011</div>
<div id="y22" class="t" style="left:842.29px;top:294.20px;font-size:13px;font-weight:400;color:#0870bf;transform:scaleX(0.9427);transform-origin:0 0">2012</div>
<div id="y23" class="t" style="left:876.07px;top:294.20px;font-size:13px;font-weight:400;color:#0870bf;transform:scaleX(0.9427);transform-origin:0 0">2013</div>
<div id="y24" class="t" style="left:909.86px;top:294.20px;font-size:13px;font-weight:400;color:#0870bf;transform:scaleX(0.9146);transform-origin:0 0">2014</div>
<div id="y25" class="t" style="left:943.64px;top:294.20px;font-size:13px;font-weight:400;color:#0870bf;transform:scaleX(0.9427);transform-origin:0 0">2015</div>
<div id="y26" class="t" style="left:977.43px;top:294.20px;font-size:13px;font-weight:400;color:#0870bf;transform:scaleX(0.9427);transform-origin:0 0">2016</div>
<div id="y27" class="t" style="left:1011.21px;top:294.20px;font-size:13px;font-weight:400;color:#0870bf;transform:scaleX(0.9427);transform-origin:0 0">2017</div>
<div id="y28" class="t" style="left:1045.00px;top:294.20px;font-size:13px;font-weight:400;color:#0870bf;transform:scaleX(0.9427);transform-origin:0 0">2018</div>
<div id="z0" class="t" style="left:64.00px;top:675.70px;font-size:13px;font-weight:400;color:#0870bf;transform:scaleX(0.9598);transform-origin:0 0">1990</div>
<div id="z1" class="t" style="left:96.51px;top:675.70px;font-size:13px;font-weight:400;color:#0870bf;transform:scaleX(0.9598);transform-origin:0 0">1991</div>
<div id="z2" class="t" style="left:129.02px;top:675.70px;font-size:13px;font-weight:400;color:#0870bf;transform:scaleX(0.9598);transform-origin:0 0">1992</div>
<div id="z3" class="t" style="left:161.53px;top:675.70px;font-size:13px;font-weight:400;color:#0870bf;transform:scaleX(0.9598);transform-origin:0 0">1993</div>
<div id="z4" class="t" style="left:194.04px;top:675.70px;font-size:13px;font-weight:400;color:#0870bf;transform:scaleX(0.9598);transform-origin:0 0">1994</div>
<div id="z5" class="t" style="left:226.54px;top:675.70px;font-size:13px;font-weight:400;color:#0870bf;transform:scaleX(0.9598);transform-origin:0 0">1995</div>
<div id="z6" class="t" style="left:259.05px;top:675.70px;font-size:13px;font-weight:400;color:#0870bf;transform:scaleX(0.9598);transform-origin:0 0">1996</div>
<div id="z7" class="t" style="left:291.56px;top:675.70px;font-size:13px;font-weight:400;color:#0870bf;transform:scaleX(0.9598);transform-origin:0 0">1997</div>
<div id="z8" class="t" style="left:324.07px;top:675.70px;font-size:13px;font-weight:400;color:#0870bf;transform:scaleX(0.9598);transform-origin:0 0">1998</div>
<div id="z9" class="t" style="left:356.58px;top:675.70px;font-size:13px;font-weight:400;color:#0870bf;transform:scaleX(0.9598);transform-origin:0 0">1999</div>
<div id="z10" class="t" style="left:389.09px;top:675.70px;font-size:13px;font-weight:400;color:#0870bf;transform:scaleX(0.9299);transform-origin:0 0">2000</div>
<div id="z11" class="t" style="left:421.60px;top:675.70px;font-size:13px;font-weight:400;color:#0870bf;transform:scaleX(0.9299);transform-origin:0 0">2001</div>
<div id="z12" class="t" style="left:454.11px;top:675.70px;font-size:13px;font-weight:400;color:#0870bf;transform:scaleX(0.9299);transform-origin:0 0">2002</div>
<div id="z13" class="t" style="left:486.62px;top:675.70px;font-size:13px;font-weight:400;color:#0870bf;transform:scaleX(0.9299);transform-origin:0 0">2003</div>
<div id="z14" class="t" style="left:519.13px;top:675.70px;font-size:13px;font-weight:400;color:#0870bf;transform:scaleX(0.9299);transform-origin:0 0">2004</div>
<div id="z15" class="t" style="left:551.63px;top:675.70px;font-size:13px;font-weight:400;color:#0870bf;transform:scaleX(0.9299);transform-origin:0 0">2005</div>
<div id="z16" class="t" style="left:584.14px;top:675.70px;font-size:13px;font-weight:400;color:#0870bf;transform:scaleX(0.9299);transform-origin:0 0">2006</div>
<div id="z17" class="t" style="left:616.65px;top:675.70px;font-size:13px;font-weight:400;color:#0870bf;transform:scaleX(0.9299);transform-origin:0 0">2007</div>
<div id="z18" class="t" style="left:649.16px;top:675.70px;font-size:13px;font-weight:400;color:#0870bf;transform:scaleX(0.9299);transform-origin:0 0">2008</div>
<div id="z19" class="t" style="left:681.67px;top:675.70px;font-size:13px;font-weight:400;color:#0870bf;transform:scaleX(0.9299);transform-origin:0 0">2009</div>
<div id="z20" class="t" style="left:714.18px;top:675.70px;font-size:13px;font-weight:400;color:#0870bf;transform:scaleX(0.9299);transform-origin:0 0">2010</div>
<div id="z21" class="t" style="left:746.69px;top:675.70px;font-size:13px;font-weight:400;color:#0870bf;transform:scaleX(0.9598);transform-origin:0 0">2011</div>
<div id="z22" class="t" style="left:779.20px;top:675.70px;font-size:13px;font-weight:400;color:#0870bf;transform:scaleX(0.9299);transform-origin:0 0">2012</div>
<div id="z23" class="t" style="left:811.71px;top:675.70px;font-size:13px;font-weight:400;color:#0870bf;transform:scaleX(0.9299);transform-origin:0 0">2013</div>
<div id="z24" class="t" style="left:844.22px;top:675.70px;font-size:13px;font-weight:400;color:#0870bf;transform:scaleX(0.9299);transform-origin:0 0">2014</div>
<div id="z25" class="t" style="left:876.72px;top:675.70px;font-size:13px;font-weight:400;color:#0870bf;transform:scaleX(0.9299);transform-origin:0 0">2015</div>
<div id="z26" class="t" style="left:909.23px;top:675.70px;font-size:13px;font-weight:400;color:#0870bf;transform:scaleX(0.9299);transform-origin:0 0">2016</div>
<div id="z27" class="t" style="left:941.74px;top:675.70px;font-size:13px;font-weight:400;color:#0870bf;transform:scaleX(0.9299);transform-origin:0 0">2017</div>
<div id="z28" class="t" style="left:974.25px;top:675.70px;font-size:13px;font-weight:400;color:#0870bf;transform:scaleX(0.9299);transform-origin:0 0">2018</div>
<div id="z29" class="t" style="left:1006.76px;top:675.70px;font-size:13px;font-weight:400;color:#0870bf;transform:scaleX(0.9299);transform-origin:0 0">2019</div>
<div class="grp" id="s0">
<div id="s0a" class="t" style="left:1.00px;top:341.40px;font-size:11px;font-weight:400;color:#0870bf;transform:scaleX(0.9785);transform-origin:0 0">*</div>
<div id="s0b" class="t" style="left:9.00px;top:338.02px;font-size:13.3px;font-weight:500;color:#0870bf;transform:scaleX(0.9974);transform-origin:0 0">출처</div>
<div id="s0c" class="t" style="left:35.00px;top:337.52px;font-size:13.3px;font-weight:400;color:#0870bf;transform:scaleX(0.8418);transform-origin:0 0">:</div>
<div id="s0d" class="t" style="left:41.70px;top:336.00px;font-size:15px;font-weight:400;color:#0870bf;transform:scaleX(0.8765);transform-origin:0 0">Bloomberg,</div>
<div id="s0e" class="t" style="left:110.00px;top:338.02px;font-size:13.3px;font-weight:500;color:#0870bf;transform:scaleX(0.9939);transform-origin:0 0">키움증권</div>
</div>
<div class="grp" id="s1">
<div id="s1a" class="t" style="left:1.00px;top:724.40px;font-size:11px;font-weight:400;color:#0870bf;transform:scaleX(0.9785);transform-origin:0 0">*</div>
<div id="s1b" class="t" style="left:9.00px;top:721.02px;font-size:13.3px;font-weight:500;color:#0870bf;transform:scaleX(0.9974);transform-origin:0 0">출처</div>
<div id="s1c" class="t" style="left:35.00px;top:721.52px;font-size:13.3px;font-weight:400;color:#0870bf;transform:scaleX(0.8418);transform-origin:0 0">:</div>
<div id="s1d" class="t" style="left:41.70px;top:718.80px;font-size:15px;font-weight:400;color:#0870bf;transform:scaleX(0.8765);transform-origin:0 0">Bloomberg,</div>
<div id="s1e" class="t" style="left:110.00px;top:721.02px;font-size:13.3px;font-weight:500;color:#0870bf;transform:scaleX(0.9939);transform-origin:0 0">키움증권</div>
</div>
<div class="grp" id="l1">
<div id="l1a" class="t" style="left:928.00px;top:338.50px;font-size:13px;font-weight:500;color:#0870bf;-webkit-text-stroke:0.35px currentColor;transform:scaleX(1.0350);transform-origin:0 0">모기지 금리<span style="font-weight:400">(30</span>년<span style="font-weight:400">)</span></div>
<div id="l1b" class="t" style="left:1046.80px;top:338.60px;font-size:13px;font-weight:500;color:#cd924e;-webkit-text-stroke:0.35px currentColor;transform:scaleX(0.9960);transform-origin:0 0">정책 금리</div>
</div>
<div class="grp" id="l2">
<div id="l2a" class="t" style="left:926.80px;top:722.20px;font-size:13px;font-weight:500;color:#0870bf;-webkit-text-stroke:0.35px currentColor;transform:scaleX(0.9879);transform-origin:0 0">주택 가격 상승률</div>
<div id="l2b" class="t" style="left:1034.40px;top:722.20px;font-size:13px;font-weight:500;color:#cd924e;-webkit-text-stroke:0.35px currentColor;transform:scaleX(1.0169);transform-origin:0 0">모기지 금리</div>
</div>
</body></html>
